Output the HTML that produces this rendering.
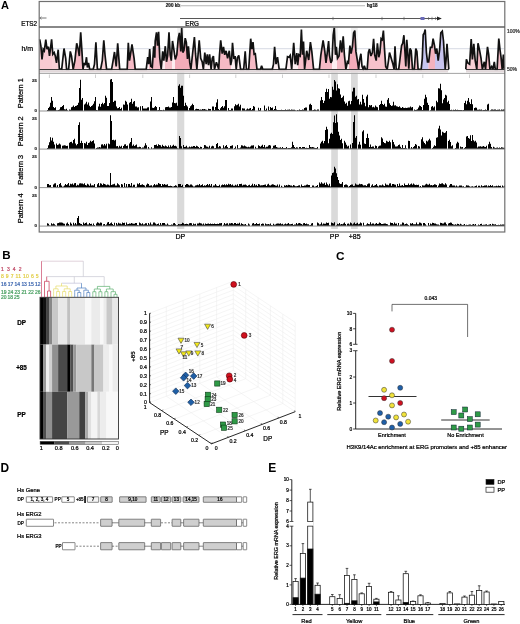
<!DOCTYPE html>
<html><head><meta charset="utf-8"><style>
html,body{margin:0;padding:0;background:#fff;width:520px;height:624px;overflow:hidden}
svg{display:block;filter:blur(0.25px)}
text{font-family:"Liberation Sans",sans-serif}
</style></head><body>
<svg width="520" height="624" viewBox="0 0 520 624">
<rect width="520" height="624" fill="#fff"/>
<text x="0.9" y="9.2" font-size="11" font-weight="bold" font-family="Liberation Sans, sans-serif">A</text>
<rect x="177.2" y="27.5" width="7.0" height="201.5" fill="#f0f0f0"/>
<rect x="177.2" y="74" width="7.0" height="155" fill="#dadada"/>
<rect x="331.3" y="27.5" width="6.5" height="201.5" fill="#f0f0f0"/>
<rect x="331.3" y="74" width="6.5" height="155" fill="#dadada"/>
<rect x="351" y="27.5" width="6.7" height="201.5" fill="#f0f0f0"/>
<rect x="351" y="74" width="6.7" height="155" fill="#dadada"/>
<text x="165.8" y="7.4" font-size="4.6" font-weight="bold" font-family="Liberation Sans, sans-serif" fill="#222" stroke="#222" stroke-width="0.22">200 kb</text>
<line x1="181" y1="5.8" x2="365" y2="5.8" stroke="#b4b4b4" stroke-width="1.1"/>
<line x1="180.2" y1="4.2" x2="180.2" y2="7.4" stroke="#999" stroke-width="0.6"/>
<text x="366.8" y="7.4" font-size="4.6" font-weight="bold" font-family="Liberation Sans, sans-serif" fill="#222" stroke="#222" stroke-width="0.22">hg18</text>
<line x1="39.5" y1="18" x2="46.5" y2="18" stroke="#555" stroke-width="0.8"/>
<path d="M41.5 16.6L39.8 18L41.5 19.4" fill="none" stroke="#555" stroke-width="0.6"/>
<line x1="180" y1="18.5" x2="440" y2="18.5" stroke="#444" stroke-width="0.9"/>
<line x1="333" y1="16.8" x2="333" y2="20.2" stroke="#555" stroke-width="0.6"/>
<line x1="382" y1="16.8" x2="382" y2="20.2" stroke="#555" stroke-width="0.6"/>
<line x1="404" y1="16.8" x2="404" y2="20.2" stroke="#555" stroke-width="0.6"/>
<line x1="432" y1="16.8" x2="432" y2="20.2" stroke="#555" stroke-width="0.6"/>
<rect x="420.5" y="17" width="4" height="3" fill="#6a6ab8"/>
<path d="M437 16.4L441.8 18.5L437 20.6Z" fill="#222"/>
<path d="M428 17.2L429.6 18.5L428 19.8" fill="none" stroke="#444" stroke-width="0.6"/>
<path d="M435 17.2L436.6 18.5L435 19.8" fill="none" stroke="#444" stroke-width="0.6"/>
<text x="21.3" y="25.8" font-size="6.3" font-family="Liberation Sans, sans-serif" stroke="#000" stroke-width="0.22">ETS2</text>
<text x="185.3" y="25.8" font-size="6.3" font-family="Liberation Sans, sans-serif" stroke="#000" stroke-width="0.22">ERG</text>
<text x="21.4" y="50.7" font-size="7" font-family="Liberation Sans, sans-serif" stroke="#000" stroke-width="0.22">h/m</text>
<text x="507" y="33" font-size="5" font-family="Liberation Sans, sans-serif" fill="#333" stroke="#333" stroke-width="0.22">100%</text>
<text x="507" y="70.5" font-size="5" font-family="Liberation Sans, sans-serif" fill="#333" stroke="#333" stroke-width="0.22">50%</text>
<clipPath id="hmclip"><polygon points="39.7,39.3 40.9,46.2 42.0,59.5 43.2,49.1 44.3,50.8 45.8,39.6 47.0,49.1 48.4,46.8 49.5,56.0 50.7,46.8 51.6,39.3 52.8,54.3 54.2,52.5 55.3,56.0 56.5,62.9 58.2,49.7 59.3,68.7 61.7,69.3 64.0,48.5 65.7,58.3 66.6,69.3 68.6,69.3 70.3,51.4 71.5,56.0 73.2,69.3 74.9,60.6 76.7,43.3 78.2,49.1 79.3,56.0 80.7,32.3 81.8,49.1 83.0,69.3 84.2,62.9 85.3,65.2 86.5,57.2 87.4,67.5 88.5,62.9 89.7,69.3 93.2,69.3 94.5,64.1 95.9,42.2 97.4,69.3 100.6,69.3 102.3,60.6 103.8,40.4 105.0,54.8 106.6,69.3 111.6,69.3 113.1,60.6 114.5,52.0 116.2,66.4 117.7,43.3 119.7,69.3 127.2,69.3 128.3,42.7 129.5,60.6 132.0,44.5 134.1,58.3 135.2,69.3 146.2,69.3 147.7,57.2 148.8,64.1 149.7,49.1 150.8,66.4 152.3,67.5 153.7,46.2 154.8,57.7 155.2,41.0 156.5,32.3 157.5,45.6 158.6,31.8 159.8,58.3 161.2,69.3 162.7,51.4 163.8,60.6 165.3,46.2 166.5,61.8 167.6,56.0 169.0,32.3 170.2,54.8 171.3,60.6 172.5,41.0 173.8,49.1 175.3,59.5 176.8,54.8 178.2,38.7 179.4,32.9 180.8,51.4 181.7,27.7 182.8,52.5 184.0,50.2 185.2,38.1 186.3,42.2 187.5,58.9 188.4,46.2 189.8,62.9 190.9,69.3 192.7,52.5 194.4,37.0 195.5,53.7 196.9,69.3 199.2,40.4 200.7,58.3 202.2,61.8 203.4,69.3 204.8,52.5 206.2,64.1 207.3,54.3 208.5,65.2 209.6,54.3 211.1,69.3 212.3,58.3 213.4,56.0 214.5,69.3 216.4,62.3 217.5,65.2 218.7,69.3 219.5,54.8 220.7,40.4 222.2,53.7 223.5,46.8 224.7,54.8 226.1,50.8 227.6,58.3 229.3,50.8 230.7,65.2 231.6,60.6 232.5,42.7 233.9,58.9 235.1,56.0 236.2,69.3 237.4,57.7 238.8,55.4 240.6,69.3 243.7,69.3 245.2,51.4 246.4,69.3 248.7,69.3 250.7,38.7 251.8,49.1 253.0,42.2 254.1,54.3 255.3,53.7 257.0,69.3 260.5,69.3 261.6,65.8 262.8,69.3 272.3,69.3 273.5,64.1 274.6,46.8 276.0,64.1 277.5,57.2 279.2,69.3 285.9,69.3 287.5,56.6 289.0,57.2 290.2,55.4 291.7,69.3 293.7,42.7 295.2,64.1 296.8,53.1 297.7,65.2 298.8,54.8 300.2,56.0 301.4,29.5 302.5,54.8 303.5,41.6 304.6,69.3 306.7,50.8 308.7,60.0 310.4,42.2 311.8,51.4 313.6,69.3 319.4,69.3 320.8,55.4 323.1,40.4 324.8,51.4 326.0,62.9 327.7,49.1 328.6,41.0 329.4,54.8 330.9,62.9 332.0,60.6 333.2,35.2 334.3,27.7 335.5,54.8 336.3,46.8 337.5,58.3 339.0,56.0 340.5,40.4 341.8,52.5 343.2,36.4 344.4,54.8 345.9,69.3 347.4,61.8 348.5,62.9 349.9,45.6 351.1,53.7 352.5,46.2 353.6,32.9 354.8,30.6 355.9,51.4 357.4,60.6 358.6,69.3 359.7,59.5 360.9,53.7 362.0,66.4 363.2,69.3 364.3,65.8 365.5,69.3 367.2,69.3 368.4,52.5 369.5,49.1 370.9,56.0 372.4,52.5 373.6,38.7 374.7,54.8 376.2,60.6 377.4,43.3 378.8,57.2 379.9,52.5 381.1,38.7 382.2,39.8 383.4,30.6 384.5,49.1 385.7,66.4 387.2,69.3 388.5,60.6 389.5,52.5 391.2,58.3 392.9,64.1 394.1,69.3 395.0,46.2 396.2,69.3 398.7,69.3 399.8,60.6 401.6,45.6 402.7,43.3 403.9,35.2 405.0,52.5 405.8,66.4 406.8,39.8 407.9,54.8 408.8,68.7 410.0,48.5 411.2,50.8 412.5,69.3 414.3,69.3 415.8,48.5 416.9,51.4 418.1,69.3 421.2,69.3 422.3,58.3 423.2,34.7 424.3,32.9 425.2,29.5 426.4,52.5 427.5,61.8 428.7,61.8 430.4,47.3 431.9,47.3 433.1,38.7 434.5,45.6 435.6,53.7 436.8,48.5 438.2,60.6 439.7,49.1 440.8,32.9 442.3,31.2 443.5,41.0 444.3,54.8 445.2,69.3 446.1,59.4 447.0,43.9 447.8,54.6 448.8,69.3 448.8,69.3 39.7,69.3"/><polygon points="465.8,69.3 466.4,59.4 467.8,63.0 469.6,64.2 471.2,39.1 472.4,59.4 473.8,43.9 475.2,60.6 476.8,69.3 478.0,43.3 479.5,49.8 481.0,58.2 482.4,69.3 484.3,61.8 485.5,69.3 487.5,46.9 488.7,54.6 489.9,69.3 491.7,66.5 492.9,69.3 494.3,61.8 495.3,69.3 497.1,69.3 498.8,38.5 500.0,49.8 501.0,57.0 502.2,69.3 503.4,54.6 504.2,69.3 504.2,69.3 465.8,69.3"/></clipPath>
<polygon points="39.7,39.3 40.9,46.2 42.0,59.5 43.2,49.1 44.3,50.8 45.8,39.6 47.0,49.1 48.4,46.8 49.5,56.0 50.7,46.8 51.6,39.3 52.8,54.3 54.2,52.5 55.3,56.0 56.5,62.9 58.2,49.7 59.3,68.7 61.7,69.3 64.0,48.5 65.7,58.3 66.6,69.3 68.6,69.3 70.3,51.4 71.5,56.0 73.2,69.3 74.9,60.6 76.7,43.3 78.2,49.1 79.3,56.0 80.7,32.3 81.8,49.1 83.0,69.3 84.2,62.9 85.3,65.2 86.5,57.2 87.4,67.5 88.5,62.9 89.7,69.3 93.2,69.3 94.5,64.1 95.9,42.2 97.4,69.3 100.6,69.3 102.3,60.6 103.8,40.4 105.0,54.8 106.6,69.3 111.6,69.3 113.1,60.6 114.5,52.0 116.2,66.4 117.7,43.3 119.7,69.3 127.2,69.3 128.3,42.7 129.5,60.6 132.0,44.5 134.1,58.3 135.2,69.3 146.2,69.3 147.7,57.2 148.8,64.1 149.7,49.1 150.8,66.4 152.3,67.5 153.7,46.2 154.8,57.7 155.2,41.0 156.5,32.3 157.5,45.6 158.6,31.8 159.8,58.3 161.2,69.3 162.7,51.4 163.8,60.6 165.3,46.2 166.5,61.8 167.6,56.0 169.0,32.3 170.2,54.8 171.3,60.6 172.5,41.0 173.8,49.1 175.3,59.5 176.8,54.8 178.2,38.7 179.4,32.9 180.8,51.4 181.7,27.7 182.8,52.5 184.0,50.2 185.2,38.1 186.3,42.2 187.5,58.9 188.4,46.2 189.8,62.9 190.9,69.3 192.7,52.5 194.4,37.0 195.5,53.7 196.9,69.3 199.2,40.4 200.7,58.3 202.2,61.8 203.4,69.3 204.8,52.5 206.2,64.1 207.3,54.3 208.5,65.2 209.6,54.3 211.1,69.3 212.3,58.3 213.4,56.0 214.5,69.3 216.4,62.3 217.5,65.2 218.7,69.3 219.5,54.8 220.7,40.4 222.2,53.7 223.5,46.8 224.7,54.8 226.1,50.8 227.6,58.3 229.3,50.8 230.7,65.2 231.6,60.6 232.5,42.7 233.9,58.9 235.1,56.0 236.2,69.3 237.4,57.7 238.8,55.4 240.6,69.3 243.7,69.3 245.2,51.4 246.4,69.3 248.7,69.3 250.7,38.7 251.8,49.1 253.0,42.2 254.1,54.3 255.3,53.7 257.0,69.3 260.5,69.3 261.6,65.8 262.8,69.3 272.3,69.3 273.5,64.1 274.6,46.8 276.0,64.1 277.5,57.2 279.2,69.3 285.9,69.3 287.5,56.6 289.0,57.2 290.2,55.4 291.7,69.3 293.7,42.7 295.2,64.1 296.8,53.1 297.7,65.2 298.8,54.8 300.2,56.0 301.4,29.5 302.5,54.8 303.5,41.6 304.6,69.3 306.7,50.8 308.7,60.0 310.4,42.2 311.8,51.4 313.6,69.3 319.4,69.3 320.8,55.4 323.1,40.4 324.8,51.4 326.0,62.9 327.7,49.1 328.6,41.0 329.4,54.8 330.9,62.9 332.0,60.6 333.2,35.2 334.3,27.7 335.5,54.8 336.3,46.8 337.5,58.3 339.0,56.0 340.5,40.4 341.8,52.5 343.2,36.4 344.4,54.8 345.9,69.3 347.4,61.8 348.5,62.9 349.9,45.6 351.1,53.7 352.5,46.2 353.6,32.9 354.8,30.6 355.9,51.4 357.4,60.6 358.6,69.3 359.7,59.5 360.9,53.7 362.0,66.4 363.2,69.3 364.3,65.8 365.5,69.3 367.2,69.3 368.4,52.5 369.5,49.1 370.9,56.0 372.4,52.5 373.6,38.7 374.7,54.8 376.2,60.6 377.4,43.3 378.8,57.2 379.9,52.5 381.1,38.7 382.2,39.8 383.4,30.6 384.5,49.1 385.7,66.4 387.2,69.3 388.5,60.6 389.5,52.5 391.2,58.3 392.9,64.1 394.1,69.3 395.0,46.2 396.2,69.3 398.7,69.3 399.8,60.6 401.6,45.6 402.7,43.3 403.9,35.2 405.0,52.5 405.8,66.4 406.8,39.8 407.9,54.8 408.8,68.7 410.0,48.5 411.2,50.8 412.5,69.3 414.3,69.3 415.8,48.5 416.9,51.4 418.1,69.3 421.2,69.3 422.3,58.3 423.2,34.7 424.3,32.9 425.2,29.5 426.4,52.5 427.5,61.8 428.7,61.8 430.4,47.3 431.9,47.3 433.1,38.7 434.5,45.6 435.6,53.7 436.8,48.5 438.2,60.6 439.7,49.1 440.8,32.9 442.3,31.2 443.5,41.0 444.3,54.8 445.2,69.3 446.1,59.4 447.0,43.9 447.8,54.6 448.8,69.3 448.8,69.3 39.7,69.3" fill="#fdeef1"/>
<polygon points="465.8,69.3 466.4,59.4 467.8,63.0 469.6,64.2 471.2,39.1 472.4,59.4 473.8,43.9 475.2,60.6 476.8,69.3 478.0,43.3 479.5,49.8 481.0,58.2 482.4,69.3 484.3,61.8 485.5,69.3 487.5,46.9 488.7,54.6 489.9,69.3 491.7,66.5 492.9,69.3 494.3,61.8 495.3,69.3 497.1,69.3 498.8,38.5 500.0,49.8 501.0,57.0 502.2,69.3 503.4,54.6 504.2,69.3 504.2,69.3 465.8,69.3" fill="#fdeef1"/>
<g clip-path="url(#hmclip)"><rect x="39" y="27" width="13.0" height="43" fill="#f8cad2"/><rect x="52" y="27" width="6.0" height="43" fill="#f8d0d6"/><rect x="72" y="27" width="10.5" height="43" fill="#f5bac5"/><rect x="100" y="27" width="6.0" height="43" fill="#f8d0d6"/><rect x="113" y="27" width="6.0" height="43" fill="#f8d0d6"/><rect x="128" y="27" width="7.0" height="43" fill="#f5bac5"/><rect x="149" y="27" width="11.0" height="43" fill="#f5bac5"/><rect x="165" y="27" width="7.0" height="43" fill="#f6c0ca"/><rect x="175" y="27" width="15.5" height="43" fill="#f3acb9"/><rect x="192" y="27" width="5.0" height="43" fill="#f8d0d6"/><rect x="218" y="27" width="13.0" height="43" fill="#f5bac5"/><rect x="248" y="27" width="9.0" height="43" fill="#f5bac5"/><rect x="298" y="27" width="6.0" height="43" fill="#f6c0ca"/><rect x="306" y="27" width="7.5" height="43" fill="#f5bac5"/><rect x="320" y="27" width="12.0" height="43" fill="#f5bac5"/><rect x="337" y="27" width="8.5" height="43" fill="#f5bac5"/><rect x="349" y="27" width="9.5" height="43" fill="#f3acb9"/><rect x="368" y="27" width="18.5" height="43" fill="#f6c2cb"/><rect x="399" y="27" width="19.0" height="43" fill="#f6c0ca"/><rect x="421" y="27" width="7.5" height="43" fill="#c6c6f0"/><rect x="428.5" y="27" width="6.5" height="43" fill="#f3b2bd"/><rect x="435" y="27" width="10.5" height="43" fill="#c8c4ee"/><rect x="466" y="27" width="10.0" height="43" fill="#f8d0d6"/><rect x="476" y="27" width="6.5" height="43" fill="#f5bac5"/><rect x="486" y="27" width="4.0" height="43" fill="#f6c0ca"/><rect x="497" y="27" width="6.0" height="43" fill="#f6c0ca"/></g>
<line x1="40" y1="48.7" x2="504" y2="48.7" stroke="#c4cad8" stroke-width="0.7"/>
<polyline points="39.7,39.3 40.9,46.2 42.0,59.5 43.2,49.1 44.3,50.8 45.8,39.6 47.0,49.1 48.4,46.8 49.5,56.0 50.7,46.8 51.6,39.3 52.8,54.3 54.2,52.5 55.3,56.0 56.5,62.9 58.2,49.7 59.3,68.7 61.7,69.3 64.0,48.5 65.7,58.3 66.6,69.3 68.6,69.3 70.3,51.4 71.5,56.0 73.2,69.3 74.9,60.6 76.7,43.3 78.2,49.1 79.3,56.0 80.7,32.3 81.8,49.1 83.0,69.3 84.2,62.9 85.3,65.2 86.5,57.2 87.4,67.5 88.5,62.9 89.7,69.3 93.2,69.3 94.5,64.1 95.9,42.2 97.4,69.3 100.6,69.3 102.3,60.6 103.8,40.4 105.0,54.8 106.6,69.3 111.6,69.3 113.1,60.6 114.5,52.0 116.2,66.4 117.7,43.3 119.7,69.3 127.2,69.3 128.3,42.7 129.5,60.6 132.0,44.5 134.1,58.3 135.2,69.3 146.2,69.3 147.7,57.2 148.8,64.1 149.7,49.1 150.8,66.4 152.3,67.5 153.7,46.2 154.8,57.7 155.2,41.0 156.5,32.3 157.5,45.6 158.6,31.8 159.8,58.3 161.2,69.3 162.7,51.4 163.8,60.6 165.3,46.2 166.5,61.8 167.6,56.0 169.0,32.3 170.2,54.8 171.3,60.6 172.5,41.0 173.8,49.1 175.3,59.5 176.8,54.8 178.2,38.7 179.4,32.9 180.8,51.4 181.7,27.7 182.8,52.5 184.0,50.2 185.2,38.1 186.3,42.2 187.5,58.9 188.4,46.2 189.8,62.9 190.9,69.3 192.7,52.5 194.4,37.0 195.5,53.7 196.9,69.3 199.2,40.4 200.7,58.3 202.2,61.8 203.4,69.3 204.8,52.5 206.2,64.1 207.3,54.3 208.5,65.2 209.6,54.3 211.1,69.3 212.3,58.3 213.4,56.0 214.5,69.3 216.4,62.3 217.5,65.2 218.7,69.3 219.5,54.8 220.7,40.4 222.2,53.7 223.5,46.8 224.7,54.8 226.1,50.8 227.6,58.3 229.3,50.8 230.7,65.2 231.6,60.6 232.5,42.7 233.9,58.9 235.1,56.0 236.2,69.3 237.4,57.7 238.8,55.4 240.6,69.3 243.7,69.3 245.2,51.4 246.4,69.3 248.7,69.3 250.7,38.7 251.8,49.1 253.0,42.2 254.1,54.3 255.3,53.7 257.0,69.3 260.5,69.3 261.6,65.8 262.8,69.3 272.3,69.3 273.5,64.1 274.6,46.8 276.0,64.1 277.5,57.2 279.2,69.3 285.9,69.3 287.5,56.6 289.0,57.2 290.2,55.4 291.7,69.3 293.7,42.7 295.2,64.1 296.8,53.1 297.7,65.2 298.8,54.8 300.2,56.0 301.4,29.5 302.5,54.8 303.5,41.6 304.6,69.3 306.7,50.8 308.7,60.0 310.4,42.2 311.8,51.4 313.6,69.3 319.4,69.3 320.8,55.4 323.1,40.4 324.8,51.4 326.0,62.9 327.7,49.1 328.6,41.0 329.4,54.8 330.9,62.9 332.0,60.6 333.2,35.2 334.3,27.7 335.5,54.8 336.3,46.8 337.5,58.3 339.0,56.0 340.5,40.4 341.8,52.5 343.2,36.4 344.4,54.8 345.9,69.3 347.4,61.8 348.5,62.9 349.9,45.6 351.1,53.7 352.5,46.2 353.6,32.9 354.8,30.6 355.9,51.4 357.4,60.6 358.6,69.3 359.7,59.5 360.9,53.7 362.0,66.4 363.2,69.3 364.3,65.8 365.5,69.3 367.2,69.3 368.4,52.5 369.5,49.1 370.9,56.0 372.4,52.5 373.6,38.7 374.7,54.8 376.2,60.6 377.4,43.3 378.8,57.2 379.9,52.5 381.1,38.7 382.2,39.8 383.4,30.6 384.5,49.1 385.7,66.4 387.2,69.3 388.5,60.6 389.5,52.5 391.2,58.3 392.9,64.1 394.1,69.3 395.0,46.2 396.2,69.3 398.7,69.3 399.8,60.6 401.6,45.6 402.7,43.3 403.9,35.2 405.0,52.5 405.8,66.4 406.8,39.8 407.9,54.8 408.8,68.7 410.0,48.5 411.2,50.8 412.5,69.3 414.3,69.3 415.8,48.5 416.9,51.4 418.1,69.3 421.2,69.3 422.3,58.3 423.2,34.7 424.3,32.9 425.2,29.5 426.4,52.5 427.5,61.8 428.7,61.8 430.4,47.3 431.9,47.3 433.1,38.7 434.5,45.6 435.6,53.7 436.8,48.5 438.2,60.6 439.7,49.1 440.8,32.9 442.3,31.2 443.5,41.0 444.3,54.8 445.2,69.3 446.1,59.4 447.0,43.9 447.8,54.6 448.8,69.3" fill="none" stroke="#111" stroke-width="1.7" stroke-linejoin="miter" stroke-miterlimit="3"/>
<polyline points="465.8,69.3 466.4,59.4 467.8,63.0 469.6,64.2 471.2,39.1 472.4,59.4 473.8,43.9 475.2,60.6 476.8,69.3 478.0,43.3 479.5,49.8 481.0,58.2 482.4,69.3 484.3,61.8 485.5,69.3 487.5,46.9 488.7,54.6 489.9,69.3 491.7,66.5 492.9,69.3 494.3,61.8 495.3,69.3 497.1,69.3 498.8,38.5 500.0,49.8 501.0,57.0 502.2,69.3 503.4,54.6 504.2,69.3" fill="none" stroke="#111" stroke-width="1.7" stroke-linejoin="miter" stroke-miterlimit="3"/>
<line x1="39" y1="69.6" x2="449" y2="69.6" stroke="#222" stroke-width="1"/>
<line x1="466" y1="69.6" x2="505" y2="69.6" stroke="#222" stroke-width="1"/>
<rect x="39" y="70.2" width="409" height="2.2" fill="#e2d8da"/>
<rect x="466" y="70.2" width="39" height="2.2" fill="#e2d8da"/>
<line x1="39" y1="73.4" x2="505" y2="73.4" stroke="#999" stroke-width="0.9"/>
<line x1="49.4" y1="74.5" x2="49.4" y2="78" stroke="#bbb" stroke-width="0.7"/>
<line x1="95.5" y1="74.5" x2="95.5" y2="78" stroke="#bbb" stroke-width="0.7"/>
<line x1="142.8" y1="74.5" x2="142.8" y2="78" stroke="#bbb" stroke-width="0.7"/>
<line x1="189.6" y1="74.5" x2="189.6" y2="78" stroke="#bbb" stroke-width="0.7"/>
<line x1="235.8" y1="74.5" x2="235.8" y2="78" stroke="#bbb" stroke-width="0.7"/>
<line x1="282.5" y1="74.5" x2="282.5" y2="78" stroke="#bbb" stroke-width="0.7"/>
<line x1="329" y1="74.5" x2="329" y2="78" stroke="#bbb" stroke-width="0.7"/>
<line x1="376" y1="74.5" x2="376" y2="78" stroke="#bbb" stroke-width="0.7"/>
<line x1="422.8" y1="74.5" x2="422.8" y2="78" stroke="#bbb" stroke-width="0.7"/>
<line x1="469.5" y1="74.5" x2="469.5" y2="78" stroke="#bbb" stroke-width="0.7"/>
<path d="M47 110.7h1v-0.6h-1zM48 110.7h1v-2.8h-1zM49 110.7h1v-3.9h-1zM50 110.7h1v-8.0h-1zM51 110.7h1v-13.8h-1zM52 110.7h1v-9.9h-1zM53 110.7h1v-3.6h-1zM54 110.7h1v-2.6h-1zM55 110.7h1v-3.4h-1zM56 110.7h1v-0.5h-1zM57 110.7h1v-0.5h-1zM58 110.7h1v-0.7h-1zM59 110.7h1v-1.2h-1zM60 110.7h1v-3.5h-1zM61 110.7h1v-3.8h-1zM62 110.7h1v-4.8h-1zM63 110.7h1v-5.7h-1zM64 110.7h1v-1.5h-1zM65 110.7h1v-1.2h-1zM66 110.7h1v-2.0h-1zM67 110.7h1v-0.4h-1zM69 110.7h1v-1.1h-1zM70 110.7h1v-0.9h-1zM71 110.7h1v-3.5h-1zM72 110.7h1v-4.0h-1zM73 110.7h1v-5.3h-1zM74 110.7h1v-3.7h-1zM75 110.7h1v-4.7h-1zM76 110.7h1v-4.9h-1zM77 110.7h1v-5.7h-1zM78 110.7h1v-8.0h-1zM79 110.7h1v-22.8h-1zM80 110.7h1v-31.0h-1zM81 110.7h1v-10.9h-1zM82 110.7h1v-12.7h-1zM84 110.7h1v-6.2h-1zM85 110.7h1v-7.3h-1zM86 110.7h1v-9.0h-1zM87 110.7h1v-6.2h-1zM88 110.7h1v-8.2h-1zM89 110.7h1v-5.0h-1zM90 110.7h1v-3.8h-1zM91 110.7h1v-4.7h-1zM92 110.7h1v-5.5h-1zM93 110.7h1v-7.0h-1zM94 110.7h1v-9.4h-1zM95 110.7h1v-13.8h-1zM96 110.7h1v-0.8h-1zM97 110.7h1v-0.5h-1zM98 110.7h1v-4.3h-1zM99 110.7h1v-7.0h-1zM100 110.7h1v-4.0h-1zM101 110.7h1v-6.8h-1zM102 110.7h1v-8.0h-1zM103 110.7h1v-6.5h-1zM104 110.7h1v-7.6h-1zM105 110.7h1v-15.0h-1zM106 110.7h1v-12.9h-1zM107 110.7h1v-4.7h-1zM108 110.7h1v-4.7h-1zM109 110.7h1v-7.6h-1zM110 110.7h1v-31.1h-1zM111 110.7h1v-31.6h-1zM112 110.7h1v-28.6h-1zM113 110.7h1v-8.7h-1zM114 110.7h1v-10.0h-1zM115 110.7h1v-10.0h-1zM116 110.7h1v-4.2h-1zM117 110.7h1v-2.5h-1zM118 110.7h1v-2.8h-1zM119 110.7h1v-3.7h-1zM120 110.7h1v-1.6h-1zM121 110.7h1v-3.0h-1zM123 110.7h1v-6.3h-1zM124 110.7h1v-6.0h-1zM125 110.7h1v-10.0h-1zM126 110.7h1v-9.0h-1zM127 110.7h1v-6.1h-1zM129 110.7h1v-7.9h-1zM130 110.7h1v-8.7h-1zM131 110.7h1v-12.0h-1zM132 110.7h1v-7.0h-1zM133 110.7h1v-9.0h-1zM134 110.7h1v-9.6h-1zM135 110.7h1v-4.2h-1zM136 110.7h1v-4.3h-1zM137 110.7h1v-3.1h-1zM138 110.7h1v-3.4h-1zM140 110.7h1v-4.4h-1zM142 110.7h1v-4.6h-1zM143 110.7h1v-2.1h-1zM144 110.7h1v-2.1h-1zM145 110.7h1v-2.3h-1zM146 110.7h1v-2.3h-1zM147 110.7h1v-3.1h-1zM148 110.7h1v-3.4h-1zM150 110.7h1v-9.2h-1zM151 110.7h1v-13.8h-1zM152 110.7h1v-2.9h-1zM153 110.7h1v-2.7h-1zM154 110.7h1v-3.4h-1zM155 110.7h1v-4.6h-1zM156 110.7h1v-3.8h-1zM157 110.7h1v-0.4h-1zM158 110.7h1v-0.6h-1zM159 110.7h1v-3.7h-1zM160 110.7h1v-0.8h-1zM161 110.7h1v-0.8h-1zM162 110.7h1v-0.5h-1zM163 110.7h1v-1.0h-1zM164 110.7h1v-0.5h-1zM165 110.7h1v-3.4h-1zM166 110.7h1v-3.7h-1zM167 110.7h1v-3.6h-1zM168 110.7h1v-4.1h-1zM169 110.7h1v-3.3h-1zM170 110.7h1v-3.2h-1zM171 110.7h1v-3.6h-1zM172 110.7h1v-8.2h-1zM173 110.7h1v-13.8h-1zM174 110.7h1v-7.7h-1zM175 110.7h1v-7.5h-1zM176 110.7h1v-8.0h-1zM177 110.7h1v-4.9h-1zM178 110.7h1v-25.0h-1zM179 110.7h1v-26.5h-1zM180 110.7h1v-23.0h-1zM181 110.7h1v-25.0h-1zM182 110.7h1v-25.0h-1zM183 110.7h1v-15.0h-1zM184 110.7h1v-4.8h-1zM185 110.7h1v-8.0h-1zM186 110.7h1v-5.4h-1zM187 110.7h1v-4.2h-1zM188 110.7h1v-0.5h-1zM189 110.7h1v-2.6h-1zM190 110.7h1v-4.5h-1zM191 110.7h1v-5.5h-1zM192 110.7h1v-7.0h-1zM193 110.7h1v-5.6h-1zM194 110.7h1v-0.4h-1zM195 110.7h1v-1.4h-1zM196 110.7h1v-2.0h-1zM197 110.7h1v-1.8h-1zM198 110.7h1v-1.6h-1zM199 110.7h1v-1.0h-1zM200 110.7h1v-1.2h-1zM201 110.7h1v-0.9h-1zM202 110.7h1v-1.7h-1zM203 110.7h1v-1.4h-1zM204 110.7h1v-1.7h-1zM205 110.7h1v-1.1h-1zM206 110.7h1v-1.0h-1zM207 110.7h1v-0.4h-1zM208 110.7h1v-2.0h-1zM209 110.7h1v-1.8h-1zM210 110.7h1v-1.8h-1zM212 110.7h1v-4.2h-1zM213 110.7h1v-4.1h-1zM214 110.7h1v-0.6h-1zM215 110.7h1v-3.6h-1zM216 110.7h1v-8.2h-1zM217 110.7h1v-11.5h-1zM218 110.7h1v-1.7h-1zM219 110.7h1v-0.8h-1zM220 110.7h1v-2.4h-1zM221 110.7h1v-3.8h-1zM222 110.7h1v-4.6h-1zM223 110.7h1v-3.0h-1zM224 110.7h1v-4.5h-1zM225 110.7h1v-10.7h-1zM226 110.7h1v-10.8h-1zM228 110.7h1v-2.7h-1zM229 110.7h1v-0.6h-1zM230 110.7h1v-0.7h-1zM231 110.7h1v-2.2h-1zM232 110.7h1v-2.2h-1zM234 110.7h1v-4.4h-1zM235 110.7h1v-6.5h-1zM236 110.7h1v-5.4h-1zM237 110.7h1v-5.9h-1zM238 110.7h1v-7.0h-1zM239 110.7h1v-4.1h-1zM240 110.7h1v-5.9h-1zM242 110.7h1v-2.5h-1zM243 110.7h1v-2.3h-1zM244 110.7h1v-2.3h-1zM245 110.7h1v-0.5h-1zM246 110.7h1v-1.2h-1zM247 110.7h1v-2.3h-1zM248 110.7h1v-1.5h-1zM249 110.7h1v-2.3h-1zM250 110.7h1v-2.6h-1zM251 110.7h1v-0.8h-1zM252 110.7h1v-1.6h-1zM253 110.7h1v-4.6h-1zM254 110.7h1v-3.9h-1zM258 110.7h1v-2.9h-1zM259 110.7h1v-0.6h-1zM260 110.7h1v-2.8h-1zM264 110.7h1v-5.1h-1zM265 110.7h1v-0.6h-1zM266 110.7h1v-2.3h-1zM268 110.7h1v-4.2h-1zM269 110.7h1v-0.6h-1zM270 110.7h1v-3.6h-1zM271 110.7h1v-2.7h-1zM272 110.7h1v-3.3h-1zM273 110.7h1v-0.6h-1zM274 110.7h1v-1.6h-1zM275 110.7h1v-4.6h-1zM276 110.7h1v-1.2h-1zM277 110.7h1v-0.6h-1zM278 110.7h1v-0.7h-1zM279 110.7h1v-0.7h-1zM280 110.7h1v-0.7h-1zM281 110.7h1v-1.0h-1zM282 110.7h1v-0.7h-1zM283 110.7h1v-0.8h-1zM284 110.7h1v-0.6h-1zM285 110.7h1v-1.3h-1zM286 110.7h1v-0.8h-1zM287 110.7h1v-0.9h-1zM288 110.7h1v-1.0h-1zM289 110.7h1v-1.3h-1zM290 110.7h1v-0.8h-1zM291 110.7h1v-1.3h-1zM292 110.7h1v-0.9h-1zM293 110.7h1v-0.9h-1zM294 110.7h1v-0.9h-1zM295 110.7h1v-0.5h-1zM296 110.7h1v-0.3h-1zM297 110.7h1v-0.6h-1zM298 110.7h1v-0.5h-1zM299 110.7h1v-1.2h-1zM300 110.7h1v-0.6h-1zM301 110.7h1v-0.8h-1zM302 110.7h1v-1.1h-1zM303 110.7h1v-1.0h-1zM304 110.7h1v-2.6h-1zM305 110.7h1v-3.2h-1zM306 110.7h1v-3.3h-1zM309 110.7h1v-6.3h-1zM310 110.7h1v-7.0h-1zM311 110.7h1v-5.6h-1zM312 110.7h1v-0.4h-1zM313 110.7h1v-0.7h-1zM314 110.7h1v-1.1h-1zM315 110.7h1v-0.9h-1zM316 110.7h1v-0.4h-1zM317 110.7h1v-1.1h-1zM318 110.7h1v-1.3h-1zM320 110.7h1v-10.3h-1zM321 110.7h1v-13.8h-1zM322 110.7h1v-10.7h-1zM323 110.7h1v-7.8h-1zM324 110.7h1v-10.0h-1zM325 110.7h1v-18.6h-1zM326 110.7h1v-22.0h-1zM327 110.7h1v-18.8h-1zM328 110.7h1v-21.6h-1zM329 110.7h1v-11.9h-1zM330 110.7h1v-13.8h-1zM331 110.7h1v-13.4h-1zM332 110.7h1v-24.0h-1zM333 110.7h1v-21.0h-1zM334 110.7h1v-30.7h-1zM335 110.7h1v-29.3h-1zM336 110.7h1v-20.1h-1zM337 110.7h1v-26.5h-1zM338 110.7h1v-22.4h-1zM339 110.7h1v-22.0h-1zM340 110.7h1v-16.3h-1zM341 110.7h1v-12.8h-1zM342 110.7h1v-13.5h-1zM343 110.7h1v-15.0h-1zM344 110.7h1v-9.3h-1zM345 110.7h1v-7.0h-1zM346 110.7h1v-8.0h-1zM347 110.7h1v-4.9h-1zM348 110.7h1v-9.5h-1zM349 110.7h1v-10.0h-1zM350 110.7h1v-6.5h-1zM351 110.7h1v-9.8h-1zM352 110.7h1v-19.1h-1zM353 110.7h1v-23.0h-1zM354 110.7h1v-22.9h-1zM355 110.7h1v-13.9h-1zM356 110.7h1v-15.0h-1zM357 110.7h1v-11.2h-1zM358 110.7h1v-11.7h-1zM359 110.7h1v-6.3h-1zM360 110.7h1v-9.0h-1zM361 110.7h1v-6.2h-1zM362 110.7h1v-16.0h-1zM363 110.7h1v-11.6h-1zM364 110.7h1v-8.0h-1zM365 110.7h1v-4.5h-1zM366 110.7h1v-14.3h-1zM367 110.7h1v-16.0h-1zM368 110.7h1v-3.4h-1zM369 110.7h1v-5.8h-1zM370 110.7h1v-5.2h-1zM371 110.7h1v-5.7h-1zM372 110.7h1v-3.5h-1zM373 110.7h1v-3.9h-1zM374 110.7h1v-3.3h-1zM375 110.7h1v-5.2h-1zM376 110.7h1v-3.9h-1zM377 110.7h1v-3.5h-1zM378 110.7h1v-0.4h-1zM379 110.7h1v-5.6h-1zM380 110.7h1v-6.7h-1zM381 110.7h1v-10.0h-1zM382 110.7h1v-6.7h-1zM383 110.7h1v-5.6h-1zM384 110.7h1v-7.0h-1zM385 110.7h1v-4.1h-1zM386 110.7h1v-4.0h-1zM387 110.7h1v-10.9h-1zM388 110.7h1v-12.7h-1zM389 110.7h1v-7.4h-1zM390 110.7h1v-5.6h-1zM391 110.7h1v-4.8h-1zM392 110.7h1v-5.3h-1zM393 110.7h1v-9.0h-1zM394 110.7h1v-5.2h-1zM395 110.7h1v-5.4h-1zM396 110.7h1v-4.4h-1zM397 110.7h1v-4.1h-1zM398 110.7h1v-3.7h-1zM399 110.7h1v-4.4h-1zM400 110.7h1v-3.1h-1zM401 110.7h1v-2.8h-1zM402 110.7h1v-3.6h-1zM403 110.7h1v-3.0h-1zM404 110.7h1v-2.8h-1zM405 110.7h1v-2.9h-1zM406 110.7h1v-2.6h-1zM407 110.7h1v-2.9h-1zM408 110.7h1v-3.2h-1zM409 110.7h1v-3.2h-1zM410 110.7h1v-4.1h-1zM411 110.7h1v-3.1h-1zM412 110.7h1v-3.6h-1zM414 110.7h1v-1.2h-1zM415 110.7h1v-0.8h-1zM416 110.7h1v-0.9h-1zM417 110.7h1v-1.4h-1zM418 110.7h1v-3.2h-1zM419 110.7h1v-5.1h-1zM420 110.7h1v-4.6h-1zM421 110.7h1v-3.7h-1zM422 110.7h1v-0.7h-1zM423 110.7h1v-5.6h-1zM424 110.7h1v-12.0h-1zM425 110.7h1v-16.0h-1zM426 110.7h1v-13.5h-1zM427 110.7h1v-8.0h-1zM428 110.7h1v-5.8h-1zM430 110.7h1v-0.5h-1zM431 110.7h1v-4.0h-1zM432 110.7h1v-4.6h-1zM433 110.7h1v-3.2h-1zM434 110.7h1v-4.3h-1zM436 110.7h1v-10.0h-1zM437 110.7h1v-8.4h-1zM438 110.7h1v-22.5h-1zM439 110.7h1v-22.1h-1zM440 110.7h1v-27.0h-1zM441 110.7h1v-20.4h-1zM442 110.7h1v-7.4h-1zM443 110.7h1v-11.2h-1zM444 110.7h1v-12.7h-1zM445 110.7h1v-16.0h-1zM446 110.7h1v-15.3h-1zM447 110.7h1v-8.5h-1zM448 110.7h1v-10.0h-1zM449 110.7h1v-6.6h-1zM450 110.7h1v-0.7h-1zM451 110.7h1v-0.9h-1zM452 110.7h1v-0.4h-1zM453 110.7h1v-0.9h-1zM454 110.7h1v-0.7h-1zM455 110.7h1v-1.3h-1zM456 110.7h1v-0.7h-1zM457 110.7h1v-0.9h-1zM458 110.7h1v-0.7h-1zM459 110.7h1v-0.7h-1zM460 110.7h1v-0.7h-1zM461 110.7h1v-0.8h-1zM462 110.7h1v-0.5h-1zM463 110.7h1v-0.8h-1zM464 110.7h1v-7.6h-1zM465 110.7h1v-10.0h-1zM466 110.7h1v-6.4h-1zM467 110.7h1v-9.9h-1zM468 110.7h1v-12.7h-1zM469 110.7h1v-8.5h-1zM470 110.7h1v-6.8h-1zM471 110.7h1v-11.5h-1zM472 110.7h1v-6.5h-1zM474 110.7h1v-2.6h-1zM475 110.7h1v-3.2h-1zM476 110.7h1v-3.0h-1zM477 110.7h1v-1.0h-1zM478 110.7h1v-0.9h-1zM479 110.7h1v-1.1h-1zM480 110.7h1v-1.0h-1zM481 110.7h1v-1.1h-1zM482 110.7h1v-0.5h-1zM483 110.7h1v-0.8h-1zM484 110.7h1v-0.7h-1zM485 110.7h1v-1.3h-1zM486 110.7h1v-0.6h-1zM487 110.7h1v-6.1h-1zM488 110.7h1v-7.0h-1zM490 110.7h1v-0.5h-1zM491 110.7h1v-1.2h-1zM492 110.7h1v-1.3h-1zM493 110.7h1v-1.0h-1zM494 110.7h1v-1.1h-1zM495 110.7h1v-1.2h-1zM496 110.7h1v-0.6h-1zM497 110.7h1v-0.9h-1zM498 110.7h1v-0.9h-1zM499 110.7h1v-1.2h-1zM500 110.7h1v-0.5h-1zM501 110.7h1v-1.2h-1zM502 110.7h1v-1.0h-1zM503 110.7h1v-1.3h-1zM504 110.7h1v-1.1h-1z" fill="#000"/>
<line x1="39" y1="111.0" x2="505" y2="111.0" stroke="#666" stroke-width="0.7"/>
<text x="36.8" y="81.7" font-size="4.3" font-weight="bold" text-anchor="end" font-family="Liberation Sans, sans-serif" fill="#333" stroke="#333" stroke-width="0.22">25</text>
<text x="36.8" y="112.1" font-size="4.3" font-weight="bold" text-anchor="end" font-family="Liberation Sans, sans-serif" fill="#333" stroke="#333" stroke-width="0.22">0</text>
<text x="0" y="0" font-size="7.4" font-family="Liberation Sans, sans-serif" text-anchor="middle" transform="translate(23.2 93.2) rotate(-90)" stroke="#000" stroke-width="0.22">Pattern 1</text>
<path d="M47 148.8h1v-0.7h-1zM48 148.8h1v-3.5h-1zM49 148.8h1v-6.6h-1zM50 148.8h1v-11.5h-1zM51 148.8h1v-8.3h-1zM52 148.8h1v-11.0h-1zM53 148.8h1v-7.0h-1zM54 148.8h1v-4.4h-1zM56 148.8h1v-5.2h-1zM57 148.8h1v-3.8h-1zM58 148.8h1v-4.2h-1zM59 148.8h1v-5.4h-1zM60 148.8h1v-4.2h-1zM61 148.8h1v-0.4h-1zM62 148.8h1v-3.0h-1zM63 148.8h1v-3.4h-1zM64 148.8h1v-3.6h-1zM65 148.8h1v-3.3h-1zM66 148.8h1v-2.8h-1zM67 148.8h1v-3.0h-1zM69 148.8h1v-6.1h-1zM70 148.8h1v-6.7h-1zM71 148.8h1v-7.0h-1zM72 148.8h1v-5.6h-1zM73 148.8h1v-8.9h-1zM74 148.8h1v-10.0h-1zM75 148.8h1v-5.4h-1zM76 148.8h1v-3.5h-1zM77 148.8h1v-4.8h-1zM78 148.8h1v-23.7h-1zM79 148.8h1v-26.5h-1zM80 148.8h1v-5.9h-1zM81 148.8h1v-8.0h-1zM82 148.8h1v-5.9h-1zM84 148.8h1v-5.9h-1zM85 148.8h1v-5.3h-1zM86 148.8h1v-7.0h-1zM87 148.8h1v-3.9h-1zM88 148.8h1v-5.8h-1zM89 148.8h1v-6.2h-1zM90 148.8h1v-8.0h-1zM91 148.8h1v-7.1h-1zM92 148.8h1v-7.7h-1zM93 148.8h1v-8.5h-1zM94 148.8h1v-5.4h-1zM96 148.8h1v-0.7h-1zM97 148.8h1v-1.3h-1zM98 148.8h1v-1.3h-1zM99 148.8h1v-1.9h-1zM100 148.8h1v-1.2h-1zM101 148.8h1v-4.3h-1zM102 148.8h1v-4.5h-1zM103 148.8h1v-3.3h-1zM104 148.8h1v-4.9h-1zM105 148.8h1v-3.4h-1zM106 148.8h1v-5.1h-1zM108 148.8h1v-5.2h-1zM109 148.8h1v-4.5h-1zM110 148.8h1v-33.5h-1zM111 148.8h1v-27.7h-1zM112 148.8h1v-8.8h-1zM113 148.8h1v-9.0h-1zM114 148.8h1v-8.4h-1zM115 148.8h1v-9.0h-1zM116 148.8h1v-2.6h-1zM117 148.8h1v-2.7h-1zM118 148.8h1v-1.4h-1zM119 148.8h1v-3.1h-1zM120 148.8h1v-2.1h-1zM121 148.8h1v-3.0h-1zM122 148.8h1v-0.7h-1zM123 148.8h1v-2.9h-1zM124 148.8h1v-4.2h-1zM125 148.8h1v-4.5h-1zM126 148.8h1v-2.7h-1zM127 148.8h1v-3.3h-1zM129 148.8h1v-5.2h-1zM130 148.8h1v-6.7h-1zM131 148.8h1v-10.8h-1zM132 148.8h1v-3.1h-1zM133 148.8h1v-4.2h-1zM134 148.8h1v-2.8h-1zM135 148.8h1v-3.6h-1zM136 148.8h1v-4.4h-1zM137 148.8h1v-1.5h-1zM138 148.8h1v-1.6h-1zM139 148.8h1v-2.1h-1zM140 148.8h1v-1.7h-1zM141 148.8h1v-0.6h-1zM142 148.8h1v-1.4h-1zM143 148.8h1v-1.4h-1zM144 148.8h1v-3.0h-1zM145 148.8h1v-5.5h-1zM146 148.8h1v-3.6h-1zM148 148.8h1v-1.7h-1zM149 148.8h1v-0.4h-1zM151 148.8h1v-1.5h-1zM152 148.8h1v-0.4h-1zM153 148.8h1v-0.5h-1zM154 148.8h1v-3.7h-1zM155 148.8h1v-3.7h-1zM156 148.8h1v-4.4h-1zM157 148.8h1v-2.7h-1zM158 148.8h1v-4.6h-1zM159 148.8h1v-3.8h-1zM160 148.8h1v-3.5h-1zM161 148.8h1v-2.1h-1zM162 148.8h1v-4.0h-1zM163 148.8h1v-2.9h-1zM164 148.8h1v-2.3h-1zM165 148.8h1v-3.4h-1zM166 148.8h1v-2.5h-1zM167 148.8h1v-1.8h-1zM168 148.8h1v-3.4h-1zM169 148.8h1v-1.5h-1zM170 148.8h1v-3.6h-1zM171 148.8h1v-2.0h-1zM172 148.8h1v-3.1h-1zM173 148.8h1v-4.0h-1zM174 148.8h1v-2.9h-1zM175 148.8h1v-3.1h-1zM176 148.8h1v-2.2h-1zM177 148.8h1v-0.5h-1zM178 148.8h1v-0.4h-1zM179 148.8h1v-12.7h-1zM180 148.8h1v-10.9h-1zM181 148.8h1v-2.5h-1zM182 148.8h1v-0.3h-1zM183 148.8h1v-3.8h-1zM184 148.8h1v-1.7h-1zM185 148.8h1v-2.0h-1zM186 148.8h1v-3.1h-1zM187 148.8h1v-1.4h-1zM188 148.8h1v-1.4h-1zM189 148.8h1v-2.3h-1zM190 148.8h1v-1.6h-1zM191 148.8h1v-2.3h-1zM192 148.8h1v-2.0h-1zM193 148.8h1v-2.9h-1zM194 148.8h1v-2.9h-1zM195 148.8h1v-1.9h-1zM196 148.8h1v-3.0h-1zM197 148.8h1v-2.6h-1zM198 148.8h1v-1.7h-1zM199 148.8h1v-0.7h-1zM200 148.8h1v-2.0h-1zM201 148.8h1v-1.8h-1zM203 148.8h1v-0.7h-1zM204 148.8h1v-3.7h-1zM205 148.8h1v-3.5h-1zM206 148.8h1v-2.4h-1zM207 148.8h1v-2.1h-1zM208 148.8h1v-1.4h-1zM209 148.8h1v-3.1h-1zM210 148.8h1v-0.5h-1zM211 148.8h1v-2.3h-1zM212 148.8h1v-3.1h-1zM213 148.8h1v-2.5h-1zM214 148.8h1v-0.5h-1zM215 148.8h1v-0.7h-1zM216 148.8h1v-4.9h-1zM217 148.8h1v-5.7h-1zM218 148.8h1v-1.5h-1zM219 148.8h1v-2.8h-1zM220 148.8h1v-2.4h-1zM221 148.8h1v-0.4h-1zM222 148.8h1v-0.6h-1zM223 148.8h1v-3.5h-1zM224 148.8h1v-1.4h-1zM225 148.8h1v-2.8h-1zM226 148.8h1v-3.9h-1zM227 148.8h1v-1.7h-1zM228 148.8h1v-0.5h-1zM229 148.8h1v-0.7h-1zM230 148.8h1v-2.7h-1zM231 148.8h1v-3.1h-1zM232 148.8h1v-3.5h-1zM234 148.8h1v-0.8h-1zM235 148.8h1v-2.2h-1zM237 148.8h1v-3.8h-1zM238 148.8h1v-0.5h-1zM239 148.8h1v-0.5h-1zM240 148.8h1v-1.4h-1zM241 148.8h1v-3.6h-1zM242 148.8h1v-3.4h-1zM243 148.8h1v-2.6h-1zM244 148.8h1v-3.4h-1zM245 148.8h1v-2.6h-1zM246 148.8h1v-2.0h-1zM247 148.8h1v-1.6h-1zM248 148.8h1v-2.0h-1zM249 148.8h1v-1.5h-1zM250 148.8h1v-2.3h-1zM251 148.8h1v-3.4h-1zM252 148.8h1v-3.2h-1zM253 148.8h1v-3.6h-1zM255 148.8h1v-2.1h-1zM256 148.8h1v-0.6h-1zM257 148.8h1v-0.6h-1zM258 148.8h1v-3.5h-1zM259 148.8h1v-2.8h-1zM260 148.8h1v-2.1h-1zM261 148.8h1v-3.1h-1zM262 148.8h1v-4.0h-1zM263 148.8h1v-1.9h-1zM264 148.8h1v-3.7h-1zM265 148.8h1v-1.4h-1zM266 148.8h1v-2.1h-1zM267 148.8h1v-2.0h-1zM268 148.8h1v-3.4h-1zM269 148.8h1v-3.9h-1zM270 148.8h1v-3.4h-1zM272 148.8h1v-0.7h-1zM273 148.8h1v-3.0h-1zM274 148.8h1v-3.2h-1zM275 148.8h1v-3.8h-1zM276 148.8h1v-1.7h-1zM277 148.8h1v-1.4h-1zM278 148.8h1v-1.1h-1zM279 148.8h1v-1.0h-1zM280 148.8h1v-1.5h-1zM281 148.8h1v-0.8h-1zM282 148.8h1v-1.9h-1zM283 148.8h1v-0.9h-1zM284 148.8h1v-0.7h-1zM285 148.8h1v-0.8h-1zM286 148.8h1v-1.9h-1zM287 148.8h1v-0.6h-1zM288 148.8h1v-0.9h-1zM289 148.8h1v-0.7h-1zM290 148.8h1v-0.7h-1zM291 148.8h1v-1.6h-1zM292 148.8h1v-7.0h-1zM293 148.8h1v-3.9h-1zM294 148.8h1v-1.7h-1zM295 148.8h1v-0.8h-1zM296 148.8h1v-1.5h-1zM297 148.8h1v-1.2h-1zM298 148.8h1v-0.4h-1zM299 148.8h1v-1.8h-1zM300 148.8h1v-1.9h-1zM301 148.8h1v-0.8h-1zM302 148.8h1v-1.8h-1zM303 148.8h1v-1.9h-1zM304 148.8h1v-1.9h-1zM305 148.8h1v-0.8h-1zM306 148.8h1v-1.0h-1zM307 148.8h1v-0.8h-1zM308 148.8h1v-0.7h-1zM309 148.8h1v-3.9h-1zM310 148.8h1v-1.8h-1zM311 148.8h1v-1.5h-1zM312 148.8h1v-1.8h-1zM313 148.8h1v-1.5h-1zM314 148.8h1v-1.1h-1zM315 148.8h1v-0.8h-1zM316 148.8h1v-0.8h-1zM317 148.8h1v-1.7h-1zM320 148.8h1v-5.4h-1zM321 148.8h1v-7.0h-1zM322 148.8h1v-8.0h-1zM323 148.8h1v-5.6h-1zM324 148.8h1v-7.9h-1zM325 148.8h1v-18.9h-1zM326 148.8h1v-22.0h-1zM327 148.8h1v-19.6h-1zM328 148.8h1v-5.6h-1zM329 148.8h1v-10.0h-1zM330 148.8h1v-15.0h-1zM331 148.8h1v-16.0h-1zM332 148.8h1v-14.7h-1zM333 148.8h1v-26.5h-1zM334 148.8h1v-33.3h-1zM335 148.8h1v-25.8h-1zM336 148.8h1v-34.6h-1zM337 148.8h1v-26.6h-1zM338 148.8h1v-17.0h-1zM339 148.8h1v-13.2h-1zM340 148.8h1v-8.9h-1zM341 148.8h1v-10.0h-1zM342 148.8h1v-5.5h-1zM344 148.8h1v-8.0h-1zM345 148.8h1v-6.2h-1zM346 148.8h1v-4.1h-1zM347 148.8h1v-2.2h-1zM348 148.8h1v-3.1h-1zM349 148.8h1v-0.4h-1zM350 148.8h1v-4.2h-1zM351 148.8h1v-0.5h-1zM352 148.8h1v-5.7h-1zM353 148.8h1v-26.8h-1zM354 148.8h1v-33.5h-1zM355 148.8h1v-11.0h-1zM356 148.8h1v-12.7h-1zM358 148.8h1v-4.2h-1zM359 148.8h1v-7.0h-1zM360 148.8h1v-4.1h-1zM362 148.8h1v-17.4h-1zM363 148.8h1v-18.5h-1zM364 148.8h1v-5.2h-1zM365 148.8h1v-4.8h-1zM366 148.8h1v-10.7h-1zM367 148.8h1v-15.0h-1zM368 148.8h1v-10.9h-1zM369 148.8h1v-1.8h-1zM370 148.8h1v-4.4h-1zM371 148.8h1v-1.7h-1zM372 148.8h1v-2.2h-1zM373 148.8h1v-2.4h-1zM374 148.8h1v-0.8h-1zM375 148.8h1v-3.2h-1zM376 148.8h1v-2.8h-1zM377 148.8h1v-0.5h-1zM378 148.8h1v-2.3h-1zM379 148.8h1v-3.0h-1zM380 148.8h1v-3.2h-1zM381 148.8h1v-11.5h-1zM382 148.8h1v-10.2h-1zM383 148.8h1v-6.7h-1zM384 148.8h1v-5.7h-1zM385 148.8h1v-5.6h-1zM386 148.8h1v-8.0h-1zM387 148.8h1v-7.4h-1zM388 148.8h1v-6.8h-1zM389 148.8h1v-8.0h-1zM390 148.8h1v-6.5h-1zM392 148.8h1v-9.0h-1zM393 148.8h1v-6.8h-1zM394 148.8h1v-4.4h-1zM395 148.8h1v-2.3h-1zM396 148.8h1v-2.2h-1zM397 148.8h1v-2.5h-1zM398 148.8h1v-3.8h-1zM399 148.8h1v-4.2h-1zM400 148.8h1v-2.1h-1zM401 148.8h1v-0.8h-1zM402 148.8h1v-3.8h-1zM403 148.8h1v-0.7h-1zM404 148.8h1v-0.7h-1zM405 148.8h1v-3.6h-1zM406 148.8h1v-0.6h-1zM408 148.8h1v-8.0h-1zM409 148.8h1v-7.9h-1zM410 148.8h1v-0.4h-1zM411 148.8h1v-1.9h-1zM412 148.8h1v-0.6h-1zM413 148.8h1v-1.9h-1zM414 148.8h1v-2.8h-1zM415 148.8h1v-4.7h-1zM416 148.8h1v-4.1h-1zM417 148.8h1v-0.4h-1zM418 148.8h1v-2.9h-1zM419 148.8h1v-2.2h-1zM421 148.8h1v-9.6h-1zM422 148.8h1v-11.5h-1zM423 148.8h1v-7.4h-1zM424 148.8h1v-5.8h-1zM425 148.8h1v-4.5h-1zM426 148.8h1v-8.0h-1zM427 148.8h1v-7.2h-1zM428 148.8h1v-8.6h-1zM429 148.8h1v-10.0h-1zM430 148.8h1v-8.3h-1zM432 148.8h1v-0.7h-1zM433 148.8h1v-2.0h-1zM434 148.8h1v-3.5h-1zM435 148.8h1v-2.8h-1zM436 148.8h1v-11.0h-1zM437 148.8h1v-11.5h-1zM438 148.8h1v-20.3h-1zM439 148.8h1v-23.0h-1zM440 148.8h1v-19.3h-1zM441 148.8h1v-13.3h-1zM442 148.8h1v-17.0h-1zM443 148.8h1v-16.4h-1zM444 148.8h1v-15.9h-1zM445 148.8h1v-16.3h-1zM446 148.8h1v-17.8h-1zM448 148.8h1v-7.7h-1zM449 148.8h1v-9.0h-1zM450 148.8h1v-6.8h-1zM451 148.8h1v-2.6h-1zM452 148.8h1v-3.6h-1zM455 148.8h1v-0.7h-1zM456 148.8h1v-5.2h-1zM457 148.8h1v-7.0h-1zM458 148.8h1v-6.1h-1zM460 148.8h1v-2.3h-1zM461 148.8h1v-1.6h-1zM462 148.8h1v-1.9h-1zM464 148.8h1v-0.7h-1zM465 148.8h1v-1.9h-1zM466 148.8h1v-12.3h-1zM467 148.8h1v-12.7h-1zM468 148.8h1v-10.7h-1zM469 148.8h1v-10.0h-1zM470 148.8h1v-13.6h-1zM471 148.8h1v-7.8h-1zM472 148.8h1v-13.8h-1zM473 148.8h1v-8.6h-1zM474 148.8h1v-7.2h-1zM475 148.8h1v-8.0h-1zM476 148.8h1v-6.3h-1zM477 148.8h1v-1.2h-1zM478 148.8h1v-2.2h-1zM479 148.8h1v-2.2h-1zM480 148.8h1v-2.5h-1zM481 148.8h1v-2.1h-1zM482 148.8h1v-2.4h-1zM483 148.8h1v-2.8h-1zM484 148.8h1v-2.1h-1zM485 148.8h1v-1.9h-1zM486 148.8h1v-3.0h-1zM488 148.8h1v-4.5h-1zM489 148.8h1v-7.0h-1zM490 148.8h1v-5.1h-1zM491 148.8h1v-1.7h-1zM492 148.8h1v-0.3h-1zM493 148.8h1v-2.0h-1zM494 148.8h1v-1.2h-1zM495 148.8h1v-0.8h-1zM496 148.8h1v-1.0h-1zM497 148.8h1v-1.2h-1zM498 148.8h1v-0.7h-1zM499 148.8h1v-1.2h-1zM500 148.8h1v-0.7h-1zM501 148.8h1v-1.6h-1zM502 148.8h1v-1.2h-1zM503 148.8h1v-1.0h-1zM504 148.8h1v-1.0h-1z" fill="#000"/>
<line x1="39" y1="149.1" x2="505" y2="149.1" stroke="#666" stroke-width="0.7"/>
<text x="36.8" y="119.8" font-size="4.3" font-weight="bold" text-anchor="end" font-family="Liberation Sans, sans-serif" fill="#333" stroke="#333" stroke-width="0.22">25</text>
<text x="36.8" y="150.2" font-size="4.3" font-weight="bold" text-anchor="end" font-family="Liberation Sans, sans-serif" fill="#333" stroke="#333" stroke-width="0.22">0</text>
<text x="0" y="0" font-size="7.4" font-family="Liberation Sans, sans-serif" text-anchor="middle" transform="translate(23.2 131.3) rotate(-90)" stroke="#000" stroke-width="0.22">Pattern 2</text>
<path d="M47 187.3h1v-3.4h-1zM48 187.3h1v-3.2h-1zM49 187.3h1v-2.0h-1zM50 187.3h1v-2.3h-1zM51 187.3h1v-0.4h-1zM53 187.3h1v-2.9h-1zM54 187.3h1v-3.9h-1zM55 187.3h1v-4.1h-1zM56 187.3h1v-0.6h-1zM57 187.3h1v-2.4h-1zM58 187.3h1v-0.3h-1zM59 187.3h1v-3.3h-1zM60 187.3h1v-4.2h-1zM61 187.3h1v-1.7h-1zM62 187.3h1v-0.6h-1zM63 187.3h1v-0.8h-1zM64 187.3h1v-1.8h-1zM65 187.3h1v-3.4h-1zM66 187.3h1v-2.2h-1zM67 187.3h1v-3.1h-1zM68 187.3h1v-4.3h-1zM69 187.3h1v-1.5h-1zM70 187.3h1v-3.5h-1zM71 187.3h1v-3.1h-1zM72 187.3h1v-3.9h-1zM73 187.3h1v-2.5h-1zM74 187.3h1v-4.1h-1zM75 187.3h1v-4.2h-1zM76 187.3h1v-1.6h-1zM77 187.3h1v-2.5h-1zM78 187.3h1v-2.1h-1zM79 187.3h1v-3.8h-1zM80 187.3h1v-4.1h-1zM81 187.3h1v-3.7h-1zM82 187.3h1v-3.9h-1zM83 187.3h1v-3.1h-1zM84 187.3h1v-4.0h-1zM85 187.3h1v-2.3h-1zM86 187.3h1v-1.8h-1zM87 187.3h1v-3.5h-1zM88 187.3h1v-2.7h-1zM89 187.3h1v-1.5h-1zM90 187.3h1v-3.8h-1zM91 187.3h1v-1.8h-1zM92 187.3h1v-2.1h-1zM93 187.3h1v-1.7h-1zM94 187.3h1v-3.2h-1zM95 187.3h1v-0.4h-1zM97 187.3h1v-3.0h-1zM98 187.3h1v-4.2h-1zM99 187.3h1v-1.5h-1zM100 187.3h1v-4.1h-1zM101 187.3h1v-3.6h-1zM102 187.3h1v-2.2h-1zM103 187.3h1v-3.9h-1zM104 187.3h1v-3.3h-1zM105 187.3h1v-2.8h-1zM106 187.3h1v-2.1h-1zM107 187.3h1v-2.7h-1zM108 187.3h1v-2.5h-1zM109 187.3h1v-1.7h-1zM110 187.3h1v-14.3h-1zM111 187.3h1v-2.2h-1zM112 187.3h1v-2.8h-1zM113 187.3h1v-3.1h-1zM114 187.3h1v-3.6h-1zM115 187.3h1v-1.8h-1zM116 187.3h1v-1.8h-1zM117 187.3h1v-4.0h-1zM118 187.3h1v-3.0h-1zM119 187.3h1v-2.1h-1zM121 187.3h1v-3.4h-1zM122 187.3h1v-2.8h-1zM123 187.3h1v-0.4h-1zM124 187.3h1v-4.2h-1zM125 187.3h1v-0.5h-1zM126 187.3h1v-3.3h-1zM127 187.3h1v-0.5h-1zM128 187.3h1v-3.2h-1zM129 187.3h1v-3.2h-1zM130 187.3h1v-1.5h-1zM131 187.3h1v-4.2h-1zM132 187.3h1v-0.8h-1zM133 187.3h1v-2.5h-1zM134 187.3h1v-2.6h-1zM135 187.3h1v-0.4h-1zM136 187.3h1v-0.6h-1zM137 187.3h1v-3.9h-1zM138 187.3h1v-3.1h-1zM139 187.3h1v-4.3h-1zM140 187.3h1v-2.4h-1zM141 187.3h1v-2.6h-1zM142 187.3h1v-3.1h-1zM143 187.3h1v-2.4h-1zM144 187.3h1v-1.9h-1zM145 187.3h1v-0.6h-1zM146 187.3h1v-2.5h-1zM147 187.3h1v-3.9h-1zM148 187.3h1v-3.3h-1zM149 187.3h1v-1.5h-1zM150 187.3h1v-1.8h-1zM151 187.3h1v-2.0h-1zM152 187.3h1v-0.7h-1zM153 187.3h1v-2.0h-1zM154 187.3h1v-3.4h-1zM155 187.3h1v-2.1h-1zM156 187.3h1v-2.7h-1zM157 187.3h1v-2.6h-1zM158 187.3h1v-4.3h-1zM159 187.3h1v-3.5h-1zM160 187.3h1v-3.4h-1zM161 187.3h1v-1.3h-1zM162 187.3h1v-3.2h-1zM163 187.3h1v-2.6h-1zM164 187.3h1v-3.3h-1zM165 187.3h1v-2.6h-1zM166 187.3h1v-2.6h-1zM167 187.3h1v-3.1h-1zM168 187.3h1v-1.3h-1zM169 187.3h1v-1.4h-1zM170 187.3h1v-1.5h-1zM171 187.3h1v-1.2h-1zM172 187.3h1v-0.7h-1zM173 187.3h1v-0.8h-1zM174 187.3h1v-1.4h-1zM175 187.3h1v-2.0h-1zM176 187.3h1v-1.6h-1zM177 187.3h1v-0.5h-1zM178 187.3h1v-3.4h-1zM179 187.3h1v-3.3h-1zM180 187.3h1v-3.3h-1zM181 187.3h1v-1.4h-1zM182 187.3h1v-2.6h-1zM183 187.3h1v-0.3h-1zM185 187.3h1v-2.4h-1zM186 187.3h1v-3.2h-1zM187 187.3h1v-3.3h-1zM188 187.3h1v-2.5h-1zM189 187.3h1v-1.8h-1zM190 187.3h1v-2.9h-1zM191 187.3h1v-2.9h-1zM192 187.3h1v-1.8h-1zM193 187.3h1v-0.7h-1zM194 187.3h1v-0.7h-1zM195 187.3h1v-1.7h-1zM196 187.3h1v-2.1h-1zM197 187.3h1v-2.5h-1zM198 187.3h1v-2.0h-1zM199 187.3h1v-3.3h-1zM200 187.3h1v-1.9h-1zM201 187.3h1v-2.3h-1zM202 187.3h1v-3.1h-1zM203 187.3h1v-1.2h-1zM204 187.3h1v-2.0h-1zM205 187.3h1v-1.6h-1zM206 187.3h1v-2.4h-1zM207 187.3h1v-3.4h-1zM208 187.3h1v-2.1h-1zM209 187.3h1v-3.3h-1zM210 187.3h1v-1.5h-1zM211 187.3h1v-3.4h-1zM212 187.3h1v-0.5h-1zM213 187.3h1v-1.9h-1zM214 187.3h1v-1.8h-1zM215 187.3h1v-3.2h-1zM216 187.3h1v-1.7h-1zM217 187.3h1v-1.3h-1zM218 187.3h1v-1.2h-1zM219 187.3h1v-2.5h-1zM220 187.3h1v-0.6h-1zM221 187.3h1v-2.0h-1zM222 187.3h1v-2.7h-1zM223 187.3h1v-2.4h-1zM224 187.3h1v-3.1h-1zM225 187.3h1v-2.0h-1zM226 187.3h1v-3.0h-1zM227 187.3h1v-2.4h-1zM228 187.3h1v-3.5h-1zM229 187.3h1v-2.8h-1zM230 187.3h1v-3.4h-1zM231 187.3h1v-2.1h-1zM232 187.3h1v-2.7h-1zM233 187.3h1v-1.5h-1zM234 187.3h1v-1.6h-1zM235 187.3h1v-2.6h-1zM236 187.3h1v-1.8h-1zM237 187.3h1v-3.1h-1zM238 187.3h1v-1.4h-1zM239 187.3h1v-3.2h-1zM240 187.3h1v-3.3h-1zM241 187.3h1v-3.5h-1zM242 187.3h1v-1.8h-1zM243 187.3h1v-2.6h-1zM244 187.3h1v-2.6h-1zM245 187.3h1v-2.8h-1zM246 187.3h1v-2.1h-1zM247 187.3h1v-1.4h-1zM248 187.3h1v-2.1h-1zM249 187.3h1v-2.5h-1zM250 187.3h1v-1.4h-1zM251 187.3h1v-2.1h-1zM252 187.3h1v-3.5h-1zM253 187.3h1v-1.5h-1zM254 187.3h1v-3.2h-1zM255 187.3h1v-1.8h-1zM256 187.3h1v-2.6h-1zM257 187.3h1v-1.4h-1zM258 187.3h1v-3.2h-1zM259 187.3h1v-2.8h-1zM260 187.3h1v-1.8h-1zM261 187.3h1v-2.0h-1zM262 187.3h1v-2.0h-1zM263 187.3h1v-2.4h-1zM264 187.3h1v-2.6h-1zM265 187.3h1v-2.7h-1zM266 187.3h1v-1.2h-1zM267 187.3h1v-2.9h-1zM268 187.3h1v-3.5h-1zM269 187.3h1v-2.1h-1zM270 187.3h1v-1.9h-1zM271 187.3h1v-2.6h-1zM272 187.3h1v-3.0h-1zM273 187.3h1v-2.9h-1zM274 187.3h1v-2.2h-1zM275 187.3h1v-1.7h-1zM276 187.3h1v-1.6h-1zM277 187.3h1v-2.9h-1zM278 187.3h1v-0.7h-1zM279 187.3h1v-2.9h-1zM281 187.3h1v-1.5h-1zM282 187.3h1v-0.6h-1zM283 187.3h1v-0.3h-1zM284 187.3h1v-2.1h-1zM285 187.3h1v-1.6h-1zM286 187.3h1v-2.2h-1zM287 187.3h1v-1.9h-1zM288 187.3h1v-2.6h-1zM289 187.3h1v-2.4h-1zM290 187.3h1v-1.8h-1zM291 187.3h1v-1.9h-1zM292 187.3h1v-1.1h-1zM293 187.3h1v-2.3h-1zM294 187.3h1v-1.9h-1zM295 187.3h1v-1.0h-1zM296 187.3h1v-1.1h-1zM297 187.3h1v-1.4h-1zM298 187.3h1v-1.8h-1zM299 187.3h1v-2.0h-1zM300 187.3h1v-0.5h-1zM301 187.3h1v-2.8h-1zM302 187.3h1v-1.3h-1zM303 187.3h1v-1.4h-1zM304 187.3h1v-1.8h-1zM305 187.3h1v-1.8h-1zM306 187.3h1v-2.5h-1zM307 187.3h1v-2.8h-1zM308 187.3h1v-2.2h-1zM309 187.3h1v-2.4h-1zM310 187.3h1v-0.3h-1zM311 187.3h1v-0.4h-1zM312 187.3h1v-1.7h-1zM313 187.3h1v-1.7h-1zM314 187.3h1v-0.5h-1zM315 187.3h1v-0.7h-1zM316 187.3h1v-1.3h-1zM317 187.3h1v-2.3h-1zM318 187.3h1v-0.3h-1zM319 187.3h1v-4.9h-1zM320 187.3h1v-3.5h-1zM321 187.3h1v-5.0h-1zM322 187.3h1v-3.9h-1zM323 187.3h1v-3.5h-1zM324 187.3h1v-4.5h-1zM325 187.3h1v-2.4h-1zM326 187.3h1v-4.8h-1zM327 187.3h1v-3.1h-1zM328 187.3h1v-1.9h-1zM329 187.3h1v-3.6h-1zM330 187.3h1v-0.8h-1zM331 187.3h1v-11.9h-1zM332 187.3h1v-14.3h-1zM333 187.3h1v-14.8h-1zM334 187.3h1v-20.5h-1zM335 187.3h1v-18.8h-1zM336 187.3h1v-14.0h-1zM337 187.3h1v-10.2h-1zM338 187.3h1v-7.4h-1zM339 187.3h1v-4.1h-1zM340 187.3h1v-3.3h-1zM341 187.3h1v-3.6h-1zM342 187.3h1v-5.2h-1zM344 187.3h1v-2.2h-1zM345 187.3h1v-2.8h-1zM346 187.3h1v-2.9h-1zM347 187.3h1v-2.1h-1zM348 187.3h1v-0.5h-1zM349 187.3h1v-1.4h-1zM350 187.3h1v-2.3h-1zM351 187.3h1v-2.7h-1zM352 187.3h1v-2.7h-1zM353 187.3h1v-1.4h-1zM354 187.3h1v-1.6h-1zM355 187.3h1v-3.9h-1zM356 187.3h1v-2.7h-1zM357 187.3h1v-2.6h-1zM358 187.3h1v-2.5h-1zM359 187.3h1v-3.5h-1zM360 187.3h1v-3.1h-1zM361 187.3h1v-3.2h-1zM362 187.3h1v-2.9h-1zM363 187.3h1v-1.7h-1zM364 187.3h1v-2.0h-1zM365 187.3h1v-2.1h-1zM366 187.3h1v-1.4h-1zM367 187.3h1v-3.0h-1zM368 187.3h1v-3.7h-1zM369 187.3h1v-3.9h-1zM370 187.3h1v-0.4h-1zM371 187.3h1v-1.9h-1zM372 187.3h1v-3.0h-1zM373 187.3h1v-1.4h-1zM374 187.3h1v-1.9h-1zM375 187.3h1v-2.4h-1zM376 187.3h1v-3.4h-1zM377 187.3h1v-1.5h-1zM378 187.3h1v-0.7h-1zM379 187.3h1v-2.0h-1zM380 187.3h1v-2.0h-1zM381 187.3h1v-1.8h-1zM382 187.3h1v-2.9h-1zM383 187.3h1v-1.8h-1zM384 187.3h1v-1.4h-1zM385 187.3h1v-3.7h-1zM386 187.3h1v-2.6h-1zM387 187.3h1v-2.5h-1zM388 187.3h1v-2.0h-1zM389 187.3h1v-3.7h-1zM390 187.3h1v-4.0h-1zM391 187.3h1v-1.5h-1zM392 187.3h1v-3.2h-1zM393 187.3h1v-3.2h-1zM394 187.3h1v-2.9h-1zM395 187.3h1v-2.5h-1zM396 187.3h1v-0.6h-1zM397 187.3h1v-3.3h-1zM398 187.3h1v-1.4h-1zM399 187.3h1v-3.7h-1zM400 187.3h1v-1.6h-1zM401 187.3h1v-1.8h-1zM402 187.3h1v-2.4h-1zM403 187.3h1v-1.4h-1zM404 187.3h1v-3.7h-1zM405 187.3h1v-2.4h-1zM406 187.3h1v-2.3h-1zM407 187.3h1v-2.3h-1zM408 187.3h1v-3.7h-1zM409 187.3h1v-2.3h-1zM410 187.3h1v-3.1h-1zM411 187.3h1v-3.9h-1zM412 187.3h1v-2.5h-1zM413 187.3h1v-3.8h-1zM414 187.3h1v-2.8h-1zM415 187.3h1v-2.4h-1zM416 187.3h1v-2.6h-1zM417 187.3h1v-2.3h-1zM418 187.3h1v-2.5h-1zM419 187.3h1v-0.6h-1zM420 187.3h1v-1.4h-1zM421 187.3h1v-0.4h-1zM422 187.3h1v-2.0h-1zM423 187.3h1v-1.7h-1zM424 187.3h1v-1.9h-1zM425 187.3h1v-2.8h-1zM426 187.3h1v-3.5h-1zM427 187.3h1v-2.8h-1zM428 187.3h1v-2.6h-1zM429 187.3h1v-3.5h-1zM430 187.3h1v-2.0h-1zM431 187.3h1v-2.3h-1zM432 187.3h1v-1.9h-1zM433 187.3h1v-2.4h-1zM434 187.3h1v-3.0h-1zM435 187.3h1v-2.9h-1zM436 187.3h1v-2.2h-1zM437 187.3h1v-0.4h-1zM438 187.3h1v-1.9h-1zM439 187.3h1v-3.7h-1zM440 187.3h1v-3.2h-1zM441 187.3h1v-3.9h-1zM442 187.3h1v-4.0h-1zM443 187.3h1v-3.0h-1zM444 187.3h1v-2.5h-1zM445 187.3h1v-4.0h-1zM446 187.3h1v-2.8h-1zM447 187.3h1v-0.4h-1zM449 187.3h1v-1.7h-1zM450 187.3h1v-3.4h-1zM451 187.3h1v-3.2h-1zM452 187.3h1v-1.9h-1zM453 187.3h1v-1.8h-1zM454 187.3h1v-1.8h-1zM455 187.3h1v-0.8h-1zM456 187.3h1v-1.8h-1zM457 187.3h1v-0.9h-1zM458 187.3h1v-0.7h-1zM459 187.3h1v-1.7h-1zM460 187.3h1v-1.7h-1zM461 187.3h1v-1.8h-1zM462 187.3h1v-0.7h-1zM463 187.3h1v-1.0h-1zM464 187.3h1v-0.4h-1zM465 187.3h1v-0.5h-1zM466 187.3h1v-2.0h-1zM467 187.3h1v-1.9h-1zM468 187.3h1v-1.8h-1zM469 187.3h1v-1.0h-1zM470 187.3h1v-0.5h-1zM471 187.3h1v-0.8h-1zM472 187.3h1v-1.1h-1zM473 187.3h1v-0.6h-1zM474 187.3h1v-0.7h-1zM475 187.3h1v-1.2h-1zM476 187.3h1v-1.9h-1zM478 187.3h1v-1.6h-1zM479 187.3h1v-1.6h-1zM480 187.3h1v-0.5h-1zM481 187.3h1v-2.1h-1zM482 187.3h1v-1.0h-1zM483 187.3h1v-1.2h-1zM484 187.3h1v-1.9h-1zM485 187.3h1v-1.7h-1zM486 187.3h1v-2.0h-1zM487 187.3h1v-0.8h-1zM488 187.3h1v-1.7h-1zM489 187.3h1v-1.4h-1zM490 187.3h1v-2.2h-1zM491 187.3h1v-1.3h-1zM492 187.3h1v-2.0h-1zM493 187.3h1v-0.9h-1zM494 187.3h1v-1.1h-1zM495 187.3h1v-1.1h-1zM496 187.3h1v-1.6h-1zM497 187.3h1v-1.0h-1zM498 187.3h1v-1.7h-1zM499 187.3h1v-1.3h-1zM500 187.3h1v-1.6h-1zM502 187.3h1v-1.8h-1zM503 187.3h1v-0.9h-1zM504 187.3h1v-1.8h-1z" fill="#000"/>
<line x1="39" y1="187.6" x2="505" y2="187.6" stroke="#666" stroke-width="0.7"/>
<text x="36.8" y="158.3" font-size="4.3" font-weight="bold" text-anchor="end" font-family="Liberation Sans, sans-serif" fill="#333" stroke="#333" stroke-width="0.22">25</text>
<text x="36.8" y="188.7" font-size="4.3" font-weight="bold" text-anchor="end" font-family="Liberation Sans, sans-serif" fill="#333" stroke="#333" stroke-width="0.22">0</text>
<text x="0" y="0" font-size="7.4" font-family="Liberation Sans, sans-serif" text-anchor="middle" transform="translate(23.2 169.8) rotate(-90)" stroke="#000" stroke-width="0.22">Pattern 3</text>
<path d="M47 225.8h1v-2.6h-1zM48 225.8h1v-2.1h-1zM49 225.8h1v-0.5h-1zM50 225.8h1v-0.4h-1zM51 225.8h1v-2.6h-1zM52 225.8h1v-1.5h-1zM53 225.8h1v-2.4h-1zM54 225.8h1v-1.6h-1zM55 225.8h1v-0.6h-1zM57 225.8h1v-2.6h-1zM58 225.8h1v-2.9h-1zM59 225.8h1v-3.3h-1zM60 225.8h1v-3.2h-1zM61 225.8h1v-3.2h-1zM62 225.8h1v-3.0h-1zM63 225.8h1v-2.4h-1zM64 225.8h1v-2.0h-1zM66 225.8h1v-2.2h-1zM67 225.8h1v-3.2h-1zM68 225.8h1v-1.7h-1zM69 225.8h1v-0.3h-1zM70 225.8h1v-3.3h-1zM71 225.8h1v-2.1h-1zM72 225.8h1v-0.4h-1zM73 225.8h1v-3.0h-1zM74 225.8h1v-1.2h-1zM75 225.8h1v-2.7h-1zM76 225.8h1v-1.2h-1zM77 225.8h1v-7.7h-1zM78 225.8h1v-9.7h-1zM79 225.8h1v-2.7h-1zM80 225.8h1v-2.0h-1zM81 225.8h1v-1.7h-1zM82 225.8h1v-0.8h-1zM83 225.8h1v-3.3h-1zM84 225.8h1v-2.0h-1zM85 225.8h1v-2.7h-1zM86 225.8h1v-3.2h-1zM87 225.8h1v-1.2h-1zM88 225.8h1v-1.2h-1zM89 225.8h1v-2.8h-1zM90 225.8h1v-1.7h-1zM91 225.8h1v-2.0h-1zM92 225.8h1v-0.6h-1zM93 225.8h1v-2.2h-1zM94 225.8h1v-0.7h-1zM96 225.8h1v-2.3h-1zM97 225.8h1v-3.5h-1zM98 225.8h1v-3.0h-1zM99 225.8h1v-2.3h-1zM100 225.8h1v-3.4h-1zM101 225.8h1v-3.0h-1zM103 225.8h1v-1.5h-1zM104 225.8h1v-1.9h-1zM105 225.8h1v-0.6h-1zM106 225.8h1v-1.2h-1zM107 225.8h1v-3.2h-1zM108 225.8h1v-3.9h-1zM109 225.8h1v-1.9h-1zM110 225.8h1v-2.6h-1zM111 225.8h1v-3.4h-1zM112 225.8h1v-1.7h-1zM113 225.8h1v-0.7h-1zM114 225.8h1v-3.0h-1zM116 225.8h1v-2.9h-1zM117 225.8h1v-1.3h-1zM118 225.8h1v-3.0h-1zM119 225.8h1v-2.2h-1zM120 225.8h1v-2.2h-1zM121 225.8h1v-1.5h-1zM122 225.8h1v-3.4h-1zM123 225.8h1v-2.8h-1zM124 225.8h1v-3.1h-1zM125 225.8h1v-0.7h-1zM126 225.8h1v-3.3h-1zM127 225.8h1v-1.5h-1zM128 225.8h1v-1.9h-1zM129 225.8h1v-2.3h-1zM130 225.8h1v-2.0h-1zM131 225.8h1v-2.9h-1zM132 225.8h1v-2.3h-1zM133 225.8h1v-2.1h-1zM134 225.8h1v-2.1h-1zM135 225.8h1v-2.7h-1zM136 225.8h1v-2.7h-1zM137 225.8h1v-0.8h-1zM138 225.8h1v-0.5h-1zM139 225.8h1v-3.3h-1zM140 225.8h1v-2.5h-1zM141 225.8h1v-1.6h-1zM142 225.8h1v-2.6h-1zM143 225.8h1v-1.2h-1zM144 225.8h1v-1.5h-1zM145 225.8h1v-2.6h-1zM146 225.8h1v-2.5h-1zM147 225.8h1v-0.7h-1zM148 225.8h1v-2.9h-1zM149 225.8h1v-1.3h-1zM150 225.8h1v-3.3h-1zM151 225.8h1v-1.3h-1zM152 225.8h1v-1.4h-1zM153 225.8h1v-3.4h-1zM154 225.8h1v-3.4h-1zM155 225.8h1v-2.4h-1zM156 225.8h1v-1.2h-1zM157 225.8h1v-1.7h-1zM158 225.8h1v-2.4h-1zM159 225.8h1v-0.7h-1zM160 225.8h1v-2.9h-1zM161 225.8h1v-1.1h-1zM162 225.8h1v-2.9h-1zM163 225.8h1v-2.7h-1zM164 225.8h1v-2.9h-1zM165 225.8h1v-1.4h-1zM166 225.8h1v-1.1h-1zM167 225.8h1v-2.4h-1zM168 225.8h1v-1.0h-1zM169 225.8h1v-0.7h-1zM170 225.8h1v-0.7h-1zM171 225.8h1v-1.4h-1zM172 225.8h1v-1.1h-1zM173 225.8h1v-2.6h-1zM174 225.8h1v-2.9h-1zM175 225.8h1v-1.5h-1zM176 225.8h1v-0.6h-1zM177 225.8h1v-0.7h-1zM178 225.8h1v-1.9h-1zM179 225.8h1v-1.5h-1zM180 225.8h1v-1.6h-1zM181 225.8h1v-1.8h-1zM182 225.8h1v-3.0h-1zM183 225.8h1v-2.5h-1zM184 225.8h1v-1.5h-1zM185 225.8h1v-1.8h-1zM186 225.8h1v-2.1h-1zM187 225.8h1v-1.7h-1zM188 225.8h1v-1.3h-1zM189 225.8h1v-2.5h-1zM190 225.8h1v-2.7h-1zM191 225.8h1v-2.6h-1zM192 225.8h1v-0.7h-1zM193 225.8h1v-2.2h-1zM194 225.8h1v-1.5h-1zM195 225.8h1v-2.0h-1zM196 225.8h1v-0.3h-1zM197 225.8h1v-2.4h-1zM198 225.8h1v-2.4h-1zM199 225.8h1v-3.0h-1zM200 225.8h1v-2.6h-1zM201 225.8h1v-2.3h-1zM202 225.8h1v-1.2h-1zM203 225.8h1v-2.2h-1zM204 225.8h1v-1.1h-1zM205 225.8h1v-2.4h-1zM206 225.8h1v-1.8h-1zM207 225.8h1v-2.1h-1zM208 225.8h1v-2.3h-1zM209 225.8h1v-1.9h-1zM210 225.8h1v-2.3h-1zM211 225.8h1v-1.9h-1zM212 225.8h1v-2.1h-1zM213 225.8h1v-1.9h-1zM214 225.8h1v-2.3h-1zM215 225.8h1v-1.9h-1zM216 225.8h1v-1.7h-1zM217 225.8h1v-2.1h-1zM218 225.8h1v-1.7h-1zM219 225.8h1v-2.6h-1zM220 225.8h1v-2.6h-1zM221 225.8h1v-2.7h-1zM223 225.8h1v-1.1h-1zM224 225.8h1v-2.9h-1zM225 225.8h1v-1.5h-1zM226 225.8h1v-2.3h-1zM227 225.8h1v-2.6h-1zM228 225.8h1v-1.1h-1zM229 225.8h1v-2.6h-1zM230 225.8h1v-2.3h-1zM231 225.8h1v-2.8h-1zM232 225.8h1v-2.5h-1zM233 225.8h1v-1.5h-1zM234 225.8h1v-2.7h-1zM235 225.8h1v-2.7h-1zM236 225.8h1v-1.7h-1zM237 225.8h1v-2.2h-1zM238 225.8h1v-2.1h-1zM239 225.8h1v-3.0h-1zM240 225.8h1v-1.1h-1zM241 225.8h1v-2.5h-1zM242 225.8h1v-1.7h-1zM243 225.8h1v-1.4h-1zM244 225.8h1v-1.3h-1zM245 225.8h1v-1.7h-1zM246 225.8h1v-0.5h-1zM247 225.8h1v-0.4h-1zM248 225.8h1v-2.3h-1zM249 225.8h1v-1.3h-1zM251 225.8h1v-0.4h-1zM252 225.8h1v-2.3h-1zM253 225.8h1v-2.8h-1zM254 225.8h1v-1.6h-1zM255 225.8h1v-1.7h-1zM256 225.8h1v-2.7h-1zM257 225.8h1v-1.8h-1zM258 225.8h1v-1.8h-1zM259 225.8h1v-2.4h-1zM261 225.8h1v-1.7h-1zM262 225.8h1v-2.3h-1zM263 225.8h1v-2.0h-1zM264 225.8h1v-0.3h-1zM265 225.8h1v-2.3h-1zM266 225.8h1v-1.5h-1zM267 225.8h1v-1.6h-1zM268 225.8h1v-1.9h-1zM269 225.8h1v-1.2h-1zM270 225.8h1v-2.2h-1zM271 225.8h1v-0.8h-1zM272 225.8h1v-0.6h-1zM273 225.8h1v-2.0h-1zM274 225.8h1v-1.0h-1zM275 225.8h1v-1.2h-1zM276 225.8h1v-2.0h-1zM277 225.8h1v-2.3h-1zM278 225.8h1v-2.2h-1zM279 225.8h1v-2.0h-1zM280 225.8h1v-2.6h-1zM281 225.8h1v-1.5h-1zM282 225.8h1v-2.1h-1zM283 225.8h1v-1.0h-1zM284 225.8h1v-1.5h-1zM285 225.8h1v-2.2h-1zM286 225.8h1v-1.6h-1zM287 225.8h1v-2.1h-1zM288 225.8h1v-2.8h-1zM289 225.8h1v-1.5h-1zM290 225.8h1v-1.5h-1zM291 225.8h1v-1.9h-1zM292 225.8h1v-2.0h-1zM293 225.8h1v-0.8h-1zM294 225.8h1v-1.2h-1zM295 225.8h1v-1.2h-1zM296 225.8h1v-2.9h-1zM297 225.8h1v-1.6h-1zM298 225.8h1v-2.5h-1zM299 225.8h1v-2.8h-1zM300 225.8h1v-2.4h-1zM301 225.8h1v-1.7h-1zM302 225.8h1v-1.1h-1zM303 225.8h1v-2.5h-1zM304 225.8h1v-2.9h-1zM305 225.8h1v-1.8h-1zM306 225.8h1v-2.2h-1zM307 225.8h1v-1.5h-1zM308 225.8h1v-1.5h-1zM309 225.8h1v-0.5h-1zM310 225.8h1v-0.7h-1zM311 225.8h1v-2.2h-1zM312 225.8h1v-2.9h-1zM317 225.8h1v-3.2h-1zM318 225.8h1v-2.5h-1zM319 225.8h1v-1.3h-1zM320 225.8h1v-1.6h-1zM321 225.8h1v-3.2h-1zM322 225.8h1v-1.4h-1zM323 225.8h1v-2.2h-1zM324 225.8h1v-2.1h-1zM325 225.8h1v-2.1h-1zM326 225.8h1v-3.4h-1zM327 225.8h1v-2.7h-1zM328 225.8h1v-3.0h-1zM329 225.8h1v-0.5h-1zM330 225.8h1v-0.4h-1zM331 225.8h1v-3.4h-1zM332 225.8h1v-2.8h-1zM333 225.8h1v-2.2h-1zM334 225.8h1v-3.5h-1zM336 225.8h1v-0.6h-1zM337 225.8h1v-2.1h-1zM338 225.8h1v-1.5h-1zM339 225.8h1v-2.9h-1zM340 225.8h1v-1.2h-1zM341 225.8h1v-1.7h-1zM342 225.8h1v-1.6h-1zM343 225.8h1v-2.4h-1zM344 225.8h1v-3.3h-1zM345 225.8h1v-1.9h-1zM346 225.8h1v-0.4h-1zM347 225.8h1v-2.1h-1zM348 225.8h1v-2.2h-1zM349 225.8h1v-1.4h-1zM350 225.8h1v-3.2h-1zM351 225.8h1v-2.5h-1zM352 225.8h1v-1.2h-1zM353 225.8h1v-2.3h-1zM354 225.8h1v-3.2h-1zM355 225.8h1v-1.7h-1zM356 225.8h1v-2.2h-1zM357 225.8h1v-3.1h-1zM358 225.8h1v-1.6h-1zM359 225.8h1v-2.0h-1zM360 225.8h1v-3.2h-1zM361 225.8h1v-2.5h-1zM363 225.8h1v-3.1h-1zM364 225.8h1v-0.6h-1zM365 225.8h1v-0.5h-1zM366 225.8h1v-1.3h-1zM367 225.8h1v-2.6h-1zM368 225.8h1v-1.9h-1zM369 225.8h1v-1.6h-1zM370 225.8h1v-3.5h-1zM371 225.8h1v-1.6h-1zM372 225.8h1v-2.4h-1zM373 225.8h1v-2.4h-1zM374 225.8h1v-1.4h-1zM375 225.8h1v-2.1h-1zM376 225.8h1v-2.7h-1zM377 225.8h1v-1.9h-1zM378 225.8h1v-2.1h-1zM379 225.8h1v-3.2h-1zM380 225.8h1v-2.8h-1zM381 225.8h1v-1.9h-1zM382 225.8h1v-1.8h-1zM383 225.8h1v-2.1h-1zM384 225.8h1v-2.2h-1zM385 225.8h1v-2.4h-1zM386 225.8h1v-1.9h-1zM387 225.8h1v-1.5h-1zM388 225.8h1v-0.6h-1zM389 225.8h1v-0.5h-1zM390 225.8h1v-3.4h-1zM391 225.8h1v-2.7h-1zM392 225.8h1v-2.8h-1zM393 225.8h1v-1.5h-1zM394 225.8h1v-3.3h-1zM395 225.8h1v-2.0h-1zM396 225.8h1v-2.2h-1zM397 225.8h1v-0.6h-1zM398 225.8h1v-2.7h-1zM399 225.8h1v-0.3h-1zM400 225.8h1v-1.2h-1zM401 225.8h1v-1.3h-1zM402 225.8h1v-3.4h-1zM403 225.8h1v-3.1h-1zM404 225.8h1v-1.3h-1zM405 225.8h1v-1.7h-1zM406 225.8h1v-2.2h-1zM407 225.8h1v-1.6h-1zM408 225.8h1v-0.7h-1zM410 225.8h1v-2.6h-1zM411 225.8h1v-2.1h-1zM412 225.8h1v-2.9h-1zM413 225.8h1v-1.6h-1zM414 225.8h1v-1.6h-1zM415 225.8h1v-1.6h-1zM416 225.8h1v-3.2h-1zM417 225.8h1v-1.5h-1zM418 225.8h1v-1.5h-1zM419 225.8h1v-3.2h-1zM420 225.8h1v-3.1h-1zM421 225.8h1v-2.3h-1zM423 225.8h1v-2.9h-1zM424 225.8h1v-2.9h-1zM425 225.8h1v-1.6h-1zM426 225.8h1v-0.4h-1zM428 225.8h1v-2.9h-1zM429 225.8h1v-0.5h-1zM430 225.8h1v-2.4h-1zM431 225.8h1v-1.5h-1zM432 225.8h1v-3.0h-1zM433 225.8h1v-2.8h-1zM434 225.8h1v-2.4h-1zM435 225.8h1v-2.3h-1zM436 225.8h1v-1.6h-1zM437 225.8h1v-1.4h-1zM438 225.8h1v-1.3h-1zM439 225.8h1v-0.5h-1zM440 225.8h1v-3.1h-1zM441 225.8h1v-2.8h-1zM442 225.8h1v-2.2h-1zM443 225.8h1v-2.2h-1zM444 225.8h1v-3.2h-1zM445 225.8h1v-3.3h-1zM446 225.8h1v-1.5h-1zM447 225.8h1v-0.4h-1zM448 225.8h1v-2.2h-1zM449 225.8h1v-2.9h-1zM450 225.8h1v-3.2h-1zM451 225.8h1v-3.0h-1zM452 225.8h1v-1.8h-1zM453 225.8h1v-1.2h-1zM454 225.8h1v-1.1h-1zM455 225.8h1v-1.5h-1zM456 225.8h1v-1.0h-1zM457 225.8h1v-2.1h-1zM458 225.8h1v-1.7h-1zM459 225.8h1v-1.1h-1zM460 225.8h1v-2.1h-1zM461 225.8h1v-1.2h-1zM462 225.8h1v-0.9h-1zM463 225.8h1v-1.1h-1zM464 225.8h1v-1.7h-1zM465 225.8h1v-0.5h-1zM466 225.8h1v-1.0h-1zM467 225.8h1v-0.9h-1zM468 225.8h1v-1.0h-1zM469 225.8h1v-1.2h-1zM470 225.8h1v-1.3h-1zM471 225.8h1v-0.8h-1zM472 225.8h1v-1.2h-1zM473 225.8h1v-1.7h-1zM474 225.8h1v-1.0h-1zM475 225.8h1v-1.7h-1zM476 225.8h1v-0.3h-1zM477 225.8h1v-0.4h-1zM478 225.8h1v-1.4h-1zM479 225.8h1v-0.7h-1zM480 225.8h1v-1.8h-1zM481 225.8h1v-2.0h-1zM482 225.8h1v-0.7h-1zM483 225.8h1v-1.0h-1zM484 225.8h1v-1.1h-1zM485 225.8h1v-1.2h-1zM486 225.8h1v-1.6h-1zM487 225.8h1v-0.7h-1zM488 225.8h1v-1.0h-1zM489 225.8h1v-1.4h-1zM490 225.8h1v-1.8h-1zM491 225.8h1v-0.5h-1zM492 225.8h1v-2.0h-1zM493 225.8h1v-1.6h-1zM494 225.8h1v-1.2h-1zM495 225.8h1v-1.6h-1zM496 225.8h1v-0.9h-1zM497 225.8h1v-0.7h-1zM498 225.8h1v-1.0h-1zM499 225.8h1v-0.9h-1zM500 225.8h1v-1.2h-1zM501 225.8h1v-1.0h-1zM502 225.8h1v-1.2h-1zM503 225.8h1v-1.4h-1zM504 225.8h1v-1.2h-1z" fill="#000"/>
<line x1="39" y1="226.1" x2="505" y2="226.1" stroke="#666" stroke-width="0.7"/>
<text x="36.8" y="196.8" font-size="4.3" font-weight="bold" text-anchor="end" font-family="Liberation Sans, sans-serif" fill="#333" stroke="#333" stroke-width="0.22">25</text>
<text x="36.8" y="227.2" font-size="4.3" font-weight="bold" text-anchor="end" font-family="Liberation Sans, sans-serif" fill="#333" stroke="#333" stroke-width="0.22">0</text>
<text x="0" y="0" font-size="7.4" font-family="Liberation Sans, sans-serif" text-anchor="middle" transform="translate(23.2 208.3) rotate(-90)" stroke="#000" stroke-width="0.22">Pattern 4</text>
<rect x="39.2" y="1.5" width="465.6" height="230.5" fill="none" stroke="#707070" stroke-width="1.2"/>
<line x1="39" y1="27" x2="505" y2="27" stroke="#606060" stroke-width="1.5"/>
<text x="180.3" y="238.7" font-size="7" text-anchor="middle" font-family="Liberation Sans, sans-serif" stroke="#000" stroke-width="0.22">DP</text>
<text x="334.5" y="238.7" font-size="7" text-anchor="middle" font-family="Liberation Sans, sans-serif" stroke="#000" stroke-width="0.22">PP</text>
<text x="354.7" y="238.7" font-size="7" text-anchor="middle" font-family="Liberation Sans, sans-serif" stroke="#000" stroke-width="0.22">+85</text>
<text x="2.2" y="259.1" font-size="11.6" font-weight="bold" font-family="Liberation Sans, sans-serif">B</text>
<text x="1" y="271.2" font-size="5" font-family="Liberation Sans, sans-serif" fill="#c04a66" textLength="20.5" lengthAdjust="spacing" stroke="#c04a66" stroke-width="0.22">1 3 4 2</text>
<text x="1" y="278.1" font-size="5" font-family="Liberation Sans, sans-serif" fill="#e2cf4a" textLength="37.5" lengthAdjust="spacing" stroke="#e2cf4a" stroke-width="0.22">8 9 7 11 10 6 5</text>
<text x="1" y="285.8" font-size="5" font-family="Liberation Sans, sans-serif" fill="#3f68b0" textLength="39.5" lengthAdjust="spacing" stroke="#3f68b0" stroke-width="0.22">16 17 14 13 15 12</text>
<text x="1" y="293.6" font-size="5" font-family="Liberation Sans, sans-serif" fill="#4aa062" textLength="39.5" lengthAdjust="spacing" stroke="#4aa062" stroke-width="0.22">19 24 23 21 22 26</text>
<text x="1" y="299.3" font-size="5" font-family="Liberation Sans, sans-serif" fill="#4aa062" textLength="18.5" lengthAdjust="spacing" stroke="#4aa062" stroke-width="0.22">20 18 25</text>
<rect x="40.00" y="297.3" width="3.07" height="47.3" fill="#000"/>
<rect x="43.02" y="297.3" width="3.07" height="47.3" fill="#111"/>
<rect x="46.04" y="297.3" width="3.07" height="47.3" fill="#444"/>
<rect x="49.06" y="297.3" width="3.07" height="47.3" fill="#888"/>
<rect x="52.08" y="297.3" width="6.09" height="47.3" fill="#c8c8c8"/>
<rect x="58.12" y="297.3" width="9.11" height="47.3" fill="#e8e8e8"/>
<rect x="67.17" y="297.3" width="3.07" height="47.3" fill="#c0c0c0"/>
<rect x="70.19" y="297.3" width="15.15" height="47.3" fill="#e8e8e8"/>
<rect x="85.29" y="297.3" width="6.09" height="47.3" fill="#f8f8f8"/>
<rect x="91.33" y="297.3" width="9.11" height="47.3" fill="#ebebeb"/>
<rect x="100.38" y="297.3" width="3.07" height="47.3" fill="#f8f8f8"/>
<rect x="103.40" y="297.3" width="3.07" height="47.3" fill="#ebebeb"/>
<rect x="106.42" y="297.3" width="6.09" height="47.3" fill="#c8c8c8"/>
<rect x="112.46" y="297.3" width="6.09" height="47.3" fill="#e8e8e8"/>
<rect x="40.00" y="344.6" width="3.07" height="47.2" fill="#000"/>
<rect x="43.02" y="344.6" width="3.07" height="47.2" fill="#999"/>
<rect x="46.04" y="344.6" width="3.07" height="47.2" fill="#f0f0f0"/>
<rect x="49.06" y="344.6" width="3.07" height="47.2" fill="#d0d0d0"/>
<rect x="52.08" y="344.6" width="6.09" height="47.2" fill="#909090"/>
<rect x="58.12" y="344.6" width="9.11" height="47.2" fill="#4a4a4a"/>
<rect x="67.17" y="344.6" width="3.07" height="47.2" fill="#000"/>
<rect x="70.19" y="344.6" width="3.07" height="47.2" fill="#505050"/>
<rect x="73.21" y="344.6" width="3.07" height="47.2" fill="#999"/>
<rect x="76.23" y="344.6" width="15.15" height="47.2" fill="#c8c8c8"/>
<rect x="91.33" y="344.6" width="3.07" height="47.2" fill="#777"/>
<rect x="94.35" y="344.6" width="9.11" height="47.2" fill="#c8c8c8"/>
<rect x="103.40" y="344.6" width="6.09" height="47.2" fill="#ececec"/>
<rect x="109.44" y="344.6" width="3.07" height="47.2" fill="#f8f8f8"/>
<rect x="112.46" y="344.6" width="6.09" height="47.2" fill="#ececec"/>
<rect x="40.00" y="391.8" width="3.07" height="47.2" fill="#000"/>
<rect x="43.02" y="391.8" width="3.07" height="47.2" fill="#505050"/>
<rect x="46.04" y="391.8" width="6.09" height="47.2" fill="#909090"/>
<rect x="52.08" y="391.8" width="15.15" height="47.2" fill="#444"/>
<rect x="67.17" y="391.8" width="12.13" height="47.2" fill="#999"/>
<rect x="79.25" y="391.8" width="6.09" height="47.2" fill="#404040"/>
<rect x="85.29" y="391.8" width="3.07" height="47.2" fill="#aaa"/>
<rect x="88.31" y="391.8" width="3.07" height="47.2" fill="#e0e0e0"/>
<rect x="91.33" y="391.8" width="6.09" height="47.2" fill="#f4f4f4"/>
<rect x="97.37" y="391.8" width="3.07" height="47.2" fill="#d8d8d8"/>
<rect x="100.38" y="391.8" width="6.09" height="47.2" fill="#ececec"/>
<rect x="106.42" y="391.8" width="12.13" height="47.2" fill="#f8f8f8"/>
<rect x="40.0" y="297.3" width="78.5" height="141.7" fill="none" stroke="#333" stroke-width="0.9"/>
<text x="21.5" y="325.3" font-size="6.3" font-weight="bold" text-anchor="middle" font-family="Liberation Sans, sans-serif" stroke="#000" stroke-width="0.22">DP</text>
<text x="21.5" y="370.0" font-size="6.3" font-weight="bold" text-anchor="middle" font-family="Liberation Sans, sans-serif" stroke="#000" stroke-width="0.22">+85</text>
<text x="21.5" y="417.1" font-size="6.3" font-weight="bold" text-anchor="middle" font-family="Liberation Sans, sans-serif" stroke="#000" stroke-width="0.22">PP</text>
<rect x="40.1" y="441.3" width="14.1" height="3" fill="#000"/>
<rect x="54.2" y="441.3" width="14.8" height="3" fill="#4a4a4a"/>
<rect x="69" y="441.3" width="16.6" height="3" fill="#9a9a9a"/>
<rect x="85.6" y="441.3" width="16.5" height="3" fill="#cacaca"/>
<rect x="102.1" y="441.3" width="16.5" height="3" fill="#f4f4f4"/>
<rect x="40.1" y="441.3" width="78.5" height="3" fill="none" stroke="#444" stroke-width="0.5"/>
<text x="41.2" y="449.9" font-size="5.6" text-anchor="middle" font-family="Liberation Sans, sans-serif" stroke="#000" stroke-width="0.22">1</text>
<text x="58.7" y="449.9" font-size="5.6" text-anchor="middle" font-family="Liberation Sans, sans-serif" stroke="#000" stroke-width="0.22">0.8</text>
<text x="74.8" y="449.9" font-size="5.6" text-anchor="middle" font-family="Liberation Sans, sans-serif" stroke="#000" stroke-width="0.22">0.6</text>
<text x="90.1" y="449.9" font-size="5.6" text-anchor="middle" font-family="Liberation Sans, sans-serif" stroke="#000" stroke-width="0.22">0.4</text>
<text x="105.8" y="449.9" font-size="5.6" text-anchor="middle" font-family="Liberation Sans, sans-serif" stroke="#000" stroke-width="0.22">0.2</text>
<text x="117.4" y="449.9" font-size="5.6" text-anchor="middle" font-family="Liberation Sans, sans-serif" stroke="#000" stroke-width="0.22">0</text>
<line x1="41.5" y1="261.2" x2="83.3" y2="261.2" stroke="#d4c0cc" stroke-width="0.7"/>
<line x1="41.5" y1="261.2" x2="41.5" y2="297.0" stroke="#d0607c" stroke-width="0.8"/>
<line x1="83.3" y1="261.2" x2="83.3" y2="276.6" stroke="#c8c8d2" stroke-width="0.7"/>
<line x1="46.7" y1="276.6" x2="104.2" y2="276.6" stroke="#c8c8d2" stroke-width="0.7"/>
<line x1="46.7" y1="276.6" x2="46.7" y2="281.3" stroke="#cc4a64" stroke-width="0.8"/>
<line x1="44.5" y1="281.3" x2="49.1" y2="281.3" stroke="#cc4a64" stroke-width="0.8"/>
<line x1="44.5" y1="281.3" x2="44.5" y2="297.0" stroke="#cc4a64" stroke-width="0.8"/>
<line x1="49.1" y1="281.3" x2="49.1" y2="291" stroke="#cc4a64" stroke-width="0.8"/>
<line x1="47.5" y1="291" x2="50.6" y2="291" stroke="#cc4a64" stroke-width="0.8"/>
<line x1="47.5" y1="291" x2="47.5" y2="297.0" stroke="#cc4a64" stroke-width="0.8"/>
<line x1="50.6" y1="291" x2="50.6" y2="297.0" stroke="#cc4a64" stroke-width="0.8"/>
<line x1="74.3" y1="276.6" x2="74.3" y2="283.2" stroke="#c8c8d2" stroke-width="0.7"/>
<line x1="61.5" y1="283.2" x2="81.5" y2="283.2" stroke="#c0c0d8" stroke-width="0.7"/>
<line x1="61.5" y1="283.2" x2="61.5" y2="286.0" stroke="#e6dc6a" stroke-width="0.7"/>
<line x1="81.5" y1="283.2" x2="81.5" y2="288.0" stroke="#4f80c0" stroke-width="0.7"/>
<line x1="104.2" y1="276.6" x2="104.2" y2="286.4" stroke="#c8c8d2" stroke-width="0.7"/>
<line x1="53.6" y1="291.5" x2="53.6" y2="297.0" stroke="#e6dc6a" stroke-width="0.7"/>
<line x1="56.6" y1="294.2" x2="56.6" y2="297.0" stroke="#e6dc6a" stroke-width="0.7"/>
<line x1="59.6" y1="294.2" x2="59.6" y2="297.0" stroke="#e6dc6a" stroke-width="0.7"/>
<line x1="56.6" y1="291.5" x2="59.6" y2="291.5" stroke="#e6dc6a" stroke-width="0.7"/>
<line x1="56.6" y1="291.5" x2="56.6" y2="294.2" stroke="#e6dc6a" stroke-width="0.7"/>
<line x1="59.6" y1="291.5" x2="59.6" y2="294.2" stroke="#e6dc6a" stroke-width="0.7"/>
<line x1="53.6" y1="288.8" x2="58.1" y2="288.8" stroke="#e6dc6a" stroke-width="0.7"/>
<line x1="53.6" y1="288.8" x2="53.6" y2="291.5" stroke="#e6dc6a" stroke-width="0.7"/>
<line x1="58.1" y1="288.8" x2="58.1" y2="291.5" stroke="#e6dc6a" stroke-width="0.7"/>
<line x1="62.6" y1="294.2" x2="62.6" y2="297.0" stroke="#e6dc6a" stroke-width="0.7"/>
<line x1="65.7" y1="294.2" x2="65.7" y2="297.0" stroke="#e6dc6a" stroke-width="0.7"/>
<line x1="62.6" y1="291.5" x2="65.7" y2="291.5" stroke="#e6dc6a" stroke-width="0.7"/>
<line x1="62.6" y1="291.5" x2="62.6" y2="294.2" stroke="#e6dc6a" stroke-width="0.7"/>
<line x1="65.7" y1="291.5" x2="65.7" y2="294.2" stroke="#e6dc6a" stroke-width="0.7"/>
<line x1="68.7" y1="294.2" x2="68.7" y2="297.0" stroke="#e6dc6a" stroke-width="0.7"/>
<line x1="71.7" y1="294.2" x2="71.7" y2="297.0" stroke="#e6dc6a" stroke-width="0.7"/>
<line x1="68.7" y1="291.5" x2="71.7" y2="291.5" stroke="#e6dc6a" stroke-width="0.7"/>
<line x1="68.7" y1="291.5" x2="68.7" y2="294.2" stroke="#e6dc6a" stroke-width="0.7"/>
<line x1="71.7" y1="291.5" x2="71.7" y2="294.2" stroke="#e6dc6a" stroke-width="0.7"/>
<line x1="64.2" y1="288.8" x2="70.2" y2="288.8" stroke="#e6dc6a" stroke-width="0.7"/>
<line x1="64.2" y1="288.8" x2="64.2" y2="291.5" stroke="#e6dc6a" stroke-width="0.7"/>
<line x1="70.2" y1="288.8" x2="70.2" y2="291.5" stroke="#e6dc6a" stroke-width="0.7"/>
<line x1="55.9" y1="286.0" x2="67.2" y2="286.0" stroke="#e6dc6a" stroke-width="0.7"/>
<line x1="55.9" y1="286.0" x2="55.9" y2="288.8" stroke="#e6dc6a" stroke-width="0.7"/>
<line x1="67.2" y1="286.0" x2="67.2" y2="288.8" stroke="#e6dc6a" stroke-width="0.7"/>
<line x1="74.7" y1="292.5" x2="74.7" y2="297.0" stroke="#4f80c0" stroke-width="0.7"/>
<line x1="77.7" y1="294.8" x2="77.7" y2="297.0" stroke="#4f80c0" stroke-width="0.7"/>
<line x1="80.8" y1="294.8" x2="80.8" y2="297.0" stroke="#4f80c0" stroke-width="0.7"/>
<line x1="77.7" y1="292.5" x2="80.8" y2="292.5" stroke="#4f80c0" stroke-width="0.7"/>
<line x1="77.7" y1="292.5" x2="77.7" y2="294.8" stroke="#4f80c0" stroke-width="0.7"/>
<line x1="80.8" y1="292.5" x2="80.8" y2="294.8" stroke="#4f80c0" stroke-width="0.7"/>
<line x1="74.7" y1="290.2" x2="79.2" y2="290.2" stroke="#4f80c0" stroke-width="0.7"/>
<line x1="74.7" y1="290.2" x2="74.7" y2="292.5" stroke="#4f80c0" stroke-width="0.7"/>
<line x1="79.2" y1="290.2" x2="79.2" y2="292.5" stroke="#4f80c0" stroke-width="0.7"/>
<line x1="83.8" y1="292.5" x2="83.8" y2="297.0" stroke="#4f80c0" stroke-width="0.7"/>
<line x1="86.8" y1="294.8" x2="86.8" y2="297.0" stroke="#4f80c0" stroke-width="0.7"/>
<line x1="89.8" y1="294.8" x2="89.8" y2="297.0" stroke="#4f80c0" stroke-width="0.7"/>
<line x1="86.8" y1="292.5" x2="89.8" y2="292.5" stroke="#4f80c0" stroke-width="0.7"/>
<line x1="86.8" y1="292.5" x2="86.8" y2="294.8" stroke="#4f80c0" stroke-width="0.7"/>
<line x1="89.8" y1="292.5" x2="89.8" y2="294.8" stroke="#4f80c0" stroke-width="0.7"/>
<line x1="83.8" y1="290.2" x2="88.3" y2="290.2" stroke="#4f80c0" stroke-width="0.7"/>
<line x1="83.8" y1="290.2" x2="83.8" y2="292.5" stroke="#4f80c0" stroke-width="0.7"/>
<line x1="88.3" y1="290.2" x2="88.3" y2="292.5" stroke="#4f80c0" stroke-width="0.7"/>
<line x1="77.0" y1="288.0" x2="86.0" y2="288.0" stroke="#4f80c0" stroke-width="0.7"/>
<line x1="77.0" y1="288.0" x2="77.0" y2="290.2" stroke="#4f80c0" stroke-width="0.7"/>
<line x1="86.0" y1="288.0" x2="86.0" y2="290.2" stroke="#4f80c0" stroke-width="0.7"/>
<line x1="92.8" y1="294.3" x2="92.8" y2="297.0" stroke="#5cb070" stroke-width="0.7"/>
<line x1="95.9" y1="294.3" x2="95.9" y2="297.0" stroke="#5cb070" stroke-width="0.7"/>
<line x1="92.8" y1="291.7" x2="95.9" y2="291.7" stroke="#5cb070" stroke-width="0.7"/>
<line x1="92.8" y1="291.7" x2="92.8" y2="294.3" stroke="#5cb070" stroke-width="0.7"/>
<line x1="95.9" y1="291.7" x2="95.9" y2="294.3" stroke="#5cb070" stroke-width="0.7"/>
<line x1="98.9" y1="294.3" x2="98.9" y2="297.0" stroke="#5cb070" stroke-width="0.7"/>
<line x1="101.9" y1="294.3" x2="101.9" y2="297.0" stroke="#5cb070" stroke-width="0.7"/>
<line x1="98.9" y1="291.7" x2="101.9" y2="291.7" stroke="#5cb070" stroke-width="0.7"/>
<line x1="98.9" y1="291.7" x2="98.9" y2="294.3" stroke="#5cb070" stroke-width="0.7"/>
<line x1="101.9" y1="291.7" x2="101.9" y2="294.3" stroke="#5cb070" stroke-width="0.7"/>
<line x1="94.3" y1="289.0" x2="100.4" y2="289.0" stroke="#5cb070" stroke-width="0.7"/>
<line x1="94.3" y1="289.0" x2="94.3" y2="291.7" stroke="#5cb070" stroke-width="0.7"/>
<line x1="100.4" y1="289.0" x2="100.4" y2="291.7" stroke="#5cb070" stroke-width="0.7"/>
<line x1="104.9" y1="294.3" x2="104.9" y2="297.0" stroke="#5cb070" stroke-width="0.7"/>
<line x1="107.9" y1="294.3" x2="107.9" y2="297.0" stroke="#5cb070" stroke-width="0.7"/>
<line x1="104.9" y1="291.7" x2="107.9" y2="291.7" stroke="#5cb070" stroke-width="0.7"/>
<line x1="104.9" y1="291.7" x2="104.9" y2="294.3" stroke="#5cb070" stroke-width="0.7"/>
<line x1="107.9" y1="291.7" x2="107.9" y2="294.3" stroke="#5cb070" stroke-width="0.7"/>
<line x1="111.0" y1="294.3" x2="111.0" y2="297.0" stroke="#5cb070" stroke-width="0.7"/>
<line x1="114.0" y1="297.0" x2="114.0" y2="297.0" stroke="#5cb070" stroke-width="0.7"/>
<line x1="117.0" y1="297.0" x2="117.0" y2="297.0" stroke="#5cb070" stroke-width="0.7"/>
<line x1="114.0" y1="294.3" x2="117.0" y2="294.3" stroke="#5cb070" stroke-width="0.7"/>
<line x1="114.0" y1="294.3" x2="114.0" y2="297.0" stroke="#5cb070" stroke-width="0.7"/>
<line x1="117.0" y1="294.3" x2="117.0" y2="297.0" stroke="#5cb070" stroke-width="0.7"/>
<line x1="111.0" y1="291.7" x2="115.5" y2="291.7" stroke="#5cb070" stroke-width="0.7"/>
<line x1="111.0" y1="291.7" x2="111.0" y2="294.3" stroke="#5cb070" stroke-width="0.7"/>
<line x1="115.5" y1="291.7" x2="115.5" y2="294.3" stroke="#5cb070" stroke-width="0.7"/>
<line x1="106.4" y1="289.0" x2="113.2" y2="289.0" stroke="#5cb070" stroke-width="0.7"/>
<line x1="106.4" y1="289.0" x2="106.4" y2="291.7" stroke="#5cb070" stroke-width="0.7"/>
<line x1="113.2" y1="289.0" x2="113.2" y2="291.7" stroke="#5cb070" stroke-width="0.7"/>
<line x1="97.4" y1="286.4" x2="109.8" y2="286.4" stroke="#5cb070" stroke-width="0.7"/>
<line x1="97.4" y1="286.4" x2="97.4" y2="289.0" stroke="#5cb070" stroke-width="0.7"/>
<line x1="109.8" y1="286.4" x2="109.8" y2="289.0" stroke="#5cb070" stroke-width="0.7"/>
<line x1="149.6" y1="398.1" x2="233.3" y2="366.0" stroke="#ebebeb" stroke-width="0.5"/>
<line x1="149.6" y1="393.7" x2="233.3" y2="361.6" stroke="#ebebeb" stroke-width="0.5"/>
<line x1="149.6" y1="389.2" x2="233.3" y2="357.1" stroke="#ebebeb" stroke-width="0.5"/>
<line x1="149.6" y1="384.7" x2="233.3" y2="352.6" stroke="#ebebeb" stroke-width="0.5"/>
<line x1="149.6" y1="380.3" x2="233.3" y2="348.2" stroke="#ebebeb" stroke-width="0.5"/>
<line x1="149.6" y1="375.8" x2="233.3" y2="343.7" stroke="#ebebeb" stroke-width="0.5"/>
<line x1="149.6" y1="371.3" x2="233.3" y2="339.2" stroke="#ebebeb" stroke-width="0.5"/>
<line x1="149.6" y1="366.9" x2="233.3" y2="334.8" stroke="#ebebeb" stroke-width="0.5"/>
<line x1="149.6" y1="362.4" x2="233.3" y2="330.3" stroke="#ebebeb" stroke-width="0.5"/>
<line x1="149.6" y1="358.0" x2="233.3" y2="325.9" stroke="#ebebeb" stroke-width="0.5"/>
<line x1="149.6" y1="353.5" x2="233.3" y2="321.4" stroke="#ebebeb" stroke-width="0.5"/>
<line x1="149.6" y1="349.0" x2="233.3" y2="316.9" stroke="#ebebeb" stroke-width="0.5"/>
<line x1="149.6" y1="344.6" x2="233.3" y2="312.5" stroke="#ebebeb" stroke-width="0.5"/>
<line x1="149.6" y1="340.1" x2="233.3" y2="308.0" stroke="#ebebeb" stroke-width="0.5"/>
<line x1="149.6" y1="335.6" x2="233.3" y2="303.5" stroke="#ebebeb" stroke-width="0.5"/>
<line x1="149.6" y1="331.2" x2="233.3" y2="299.1" stroke="#ebebeb" stroke-width="0.5"/>
<line x1="149.6" y1="326.7" x2="233.3" y2="294.6" stroke="#ebebeb" stroke-width="0.5"/>
<line x1="149.6" y1="322.2" x2="233.3" y2="290.1" stroke="#ebebeb" stroke-width="0.5"/>
<line x1="149.6" y1="317.8" x2="233.3" y2="285.7" stroke="#ebebeb" stroke-width="0.5"/>
<line x1="149.6" y1="313.3" x2="233.3" y2="281.2" stroke="#ebebeb" stroke-width="0.5"/>
<line x1="166.3" y1="396.2" x2="166.3" y2="306.9" stroke="#ebebeb" stroke-width="0.5"/>
<line x1="183.1" y1="389.8" x2="183.1" y2="300.5" stroke="#ebebeb" stroke-width="0.5"/>
<line x1="199.8" y1="383.3" x2="199.8" y2="294.0" stroke="#ebebeb" stroke-width="0.5"/>
<line x1="216.6" y1="376.9" x2="216.6" y2="287.6" stroke="#ebebeb" stroke-width="0.5"/>
<line x1="233.3" y1="370.5" x2="233.3" y2="281.2" stroke="#ebebeb" stroke-width="0.5"/>
<line x1="295.2" y1="407.2" x2="233.3" y2="366.0" stroke="#ebebeb" stroke-width="0.5"/>
<line x1="295.2" y1="402.8" x2="233.3" y2="361.6" stroke="#ebebeb" stroke-width="0.5"/>
<line x1="295.2" y1="398.3" x2="233.3" y2="357.1" stroke="#ebebeb" stroke-width="0.5"/>
<line x1="295.2" y1="393.8" x2="233.3" y2="352.6" stroke="#ebebeb" stroke-width="0.5"/>
<line x1="295.2" y1="389.4" x2="233.3" y2="348.2" stroke="#ebebeb" stroke-width="0.5"/>
<line x1="295.2" y1="384.9" x2="233.3" y2="343.7" stroke="#ebebeb" stroke-width="0.5"/>
<line x1="295.2" y1="380.4" x2="233.3" y2="339.2" stroke="#ebebeb" stroke-width="0.5"/>
<line x1="295.2" y1="376.0" x2="233.3" y2="334.8" stroke="#ebebeb" stroke-width="0.5"/>
<line x1="295.2" y1="371.5" x2="233.3" y2="330.3" stroke="#ebebeb" stroke-width="0.5"/>
<line x1="295.2" y1="367.1" x2="233.3" y2="325.9" stroke="#ebebeb" stroke-width="0.5"/>
<line x1="295.2" y1="362.6" x2="233.3" y2="321.4" stroke="#ebebeb" stroke-width="0.5"/>
<line x1="295.2" y1="358.1" x2="233.3" y2="316.9" stroke="#ebebeb" stroke-width="0.5"/>
<line x1="295.2" y1="353.7" x2="233.3" y2="312.5" stroke="#ebebeb" stroke-width="0.5"/>
<line x1="295.2" y1="349.2" x2="233.3" y2="308.0" stroke="#ebebeb" stroke-width="0.5"/>
<line x1="295.2" y1="344.7" x2="233.3" y2="303.5" stroke="#ebebeb" stroke-width="0.5"/>
<line x1="295.2" y1="340.3" x2="233.3" y2="299.1" stroke="#ebebeb" stroke-width="0.5"/>
<line x1="295.2" y1="335.8" x2="233.3" y2="294.6" stroke="#ebebeb" stroke-width="0.5"/>
<line x1="295.2" y1="331.3" x2="233.3" y2="290.1" stroke="#ebebeb" stroke-width="0.5"/>
<line x1="295.2" y1="326.9" x2="233.3" y2="285.7" stroke="#ebebeb" stroke-width="0.5"/>
<line x1="295.2" y1="322.4" x2="233.3" y2="281.2" stroke="#ebebeb" stroke-width="0.5"/>
<line x1="295.2" y1="411.7" x2="295.2" y2="322.4" stroke="#ebebeb" stroke-width="0.5"/>
<line x1="282.8" y1="403.5" x2="282.8" y2="314.2" stroke="#ebebeb" stroke-width="0.5"/>
<line x1="270.4" y1="395.2" x2="270.4" y2="305.9" stroke="#ebebeb" stroke-width="0.5"/>
<line x1="258.1" y1="387.0" x2="258.1" y2="297.7" stroke="#ebebeb" stroke-width="0.5"/>
<line x1="245.7" y1="378.7" x2="245.7" y2="289.4" stroke="#ebebeb" stroke-width="0.5"/>
<line x1="199.1" y1="435.6" x2="282.8" y2="403.5" stroke="#ebebeb" stroke-width="0.5"/>
<line x1="186.7" y1="427.3" x2="270.4" y2="395.2" stroke="#ebebeb" stroke-width="0.5"/>
<line x1="174.4" y1="419.1" x2="258.1" y2="387.0" stroke="#ebebeb" stroke-width="0.5"/>
<line x1="162.0" y1="410.8" x2="245.7" y2="378.7" stroke="#ebebeb" stroke-width="0.5"/>
<line x1="149.6" y1="402.6" x2="233.3" y2="370.5" stroke="#ebebeb" stroke-width="0.5"/>
<line x1="228.2" y1="437.4" x2="166.3" y2="396.2" stroke="#ebebeb" stroke-width="0.5"/>
<line x1="245.0" y1="431.0" x2="183.1" y2="389.8" stroke="#ebebeb" stroke-width="0.5"/>
<line x1="261.7" y1="424.5" x2="199.8" y2="383.3" stroke="#ebebeb" stroke-width="0.5"/>
<line x1="278.5" y1="418.1" x2="216.6" y2="376.9" stroke="#ebebeb" stroke-width="0.5"/>
<line x1="295.2" y1="411.7" x2="233.3" y2="370.5" stroke="#ebebeb" stroke-width="0.5"/>
<line x1="149.6" y1="402.6" x2="149.6" y2="313.3" stroke="#111" stroke-width="0.9"/>
<polyline points="149.6,402.6 211.5,443.8 295.2,411.7" fill="none" stroke="#111" stroke-width="0.9"/>
<line x1="149.6" y1="402.6" x2="150.9" y2="402.6" stroke="#111" stroke-width="0.6"/>
<text x="147.0" y="404.4" font-size="5.2" text-anchor="end" font-family="Liberation Sans, sans-serif" stroke="#000" stroke-width="0.22">0</text>
<line x1="149.6" y1="393.7" x2="150.9" y2="393.7" stroke="#111" stroke-width="0.6"/>
<text x="147.0" y="395.5" font-size="5.2" text-anchor="end" font-family="Liberation Sans, sans-serif" stroke="#000" stroke-width="0.22">0.1</text>
<line x1="149.6" y1="384.7" x2="150.9" y2="384.7" stroke="#111" stroke-width="0.6"/>
<text x="147.0" y="386.5" font-size="5.2" text-anchor="end" font-family="Liberation Sans, sans-serif" stroke="#000" stroke-width="0.22">0.2</text>
<line x1="149.6" y1="375.8" x2="150.9" y2="375.8" stroke="#111" stroke-width="0.6"/>
<text x="147.0" y="377.6" font-size="5.2" text-anchor="end" font-family="Liberation Sans, sans-serif" stroke="#000" stroke-width="0.22">0.3</text>
<line x1="149.6" y1="366.9" x2="150.9" y2="366.9" stroke="#111" stroke-width="0.6"/>
<text x="147.0" y="368.7" font-size="5.2" text-anchor="end" font-family="Liberation Sans, sans-serif" stroke="#000" stroke-width="0.22">0.4</text>
<line x1="149.6" y1="358.0" x2="150.9" y2="358.0" stroke="#111" stroke-width="0.6"/>
<text x="147.0" y="359.8" font-size="5.2" text-anchor="end" font-family="Liberation Sans, sans-serif" stroke="#000" stroke-width="0.22">0.5</text>
<line x1="149.6" y1="349.0" x2="150.9" y2="349.0" stroke="#111" stroke-width="0.6"/>
<text x="147.0" y="350.8" font-size="5.2" text-anchor="end" font-family="Liberation Sans, sans-serif" stroke="#000" stroke-width="0.22">0.6</text>
<line x1="149.6" y1="340.1" x2="150.9" y2="340.1" stroke="#111" stroke-width="0.6"/>
<text x="147.0" y="341.9" font-size="5.2" text-anchor="end" font-family="Liberation Sans, sans-serif" stroke="#000" stroke-width="0.22">0.7</text>
<line x1="149.6" y1="331.2" x2="150.9" y2="331.2" stroke="#111" stroke-width="0.6"/>
<text x="147.0" y="333.0" font-size="5.2" text-anchor="end" font-family="Liberation Sans, sans-serif" stroke="#000" stroke-width="0.22">0.8</text>
<line x1="149.6" y1="322.2" x2="150.9" y2="322.2" stroke="#111" stroke-width="0.6"/>
<text x="147.0" y="324.0" font-size="5.2" text-anchor="end" font-family="Liberation Sans, sans-serif" stroke="#000" stroke-width="0.22">0.9</text>
<line x1="149.6" y1="313.3" x2="150.9" y2="313.3" stroke="#111" stroke-width="0.6"/>
<text x="147.0" y="315.1" font-size="5.2" text-anchor="end" font-family="Liberation Sans, sans-serif" stroke="#000" stroke-width="0.22">1</text>
<line x1="211.5" y1="443.8" x2="212.4" y2="442.6" stroke="#111" stroke-width="0.6"/>
<text x="207.0" y="450.0" font-size="5.2" text-anchor="middle" font-family="Liberation Sans, sans-serif" stroke="#000" stroke-width="0.22">0</text>
<line x1="199.1" y1="435.6" x2="200.0" y2="434.4" stroke="#111" stroke-width="0.6"/>
<text x="194.6" y="441.8" font-size="5.2" text-anchor="middle" font-family="Liberation Sans, sans-serif" stroke="#000" stroke-width="0.22">0.2</text>
<line x1="186.7" y1="427.3" x2="187.6" y2="426.1" stroke="#111" stroke-width="0.6"/>
<text x="182.2" y="433.5" font-size="5.2" text-anchor="middle" font-family="Liberation Sans, sans-serif" stroke="#000" stroke-width="0.22">0.4</text>
<line x1="174.4" y1="419.1" x2="175.3" y2="417.9" stroke="#111" stroke-width="0.6"/>
<text x="169.9" y="425.3" font-size="5.2" text-anchor="middle" font-family="Liberation Sans, sans-serif" stroke="#000" stroke-width="0.22">0.6</text>
<line x1="162.0" y1="410.8" x2="162.9" y2="409.6" stroke="#111" stroke-width="0.6"/>
<text x="157.5" y="417.0" font-size="5.2" text-anchor="middle" font-family="Liberation Sans, sans-serif" stroke="#000" stroke-width="0.22">0.8</text>
<line x1="149.6" y1="402.6" x2="150.5" y2="401.4" stroke="#111" stroke-width="0.6"/>
<text x="145.1" y="408.8" font-size="5.2" text-anchor="middle" font-family="Liberation Sans, sans-serif" stroke="#000" stroke-width="0.22">1</text>
<line x1="211.5" y1="443.8" x2="211.0" y2="442.5" stroke="#111" stroke-width="0.6"/>
<text x="216.3" y="449.6" font-size="5.2" text-anchor="middle" font-family="Liberation Sans, sans-serif" stroke="#000" stroke-width="0.22">0</text>
<line x1="228.2" y1="437.4" x2="227.7" y2="436.1" stroke="#111" stroke-width="0.6"/>
<text x="233.0" y="443.2" font-size="5.2" text-anchor="middle" font-family="Liberation Sans, sans-serif" stroke="#000" stroke-width="0.22">0.2</text>
<line x1="245.0" y1="431.0" x2="244.5" y2="429.7" stroke="#111" stroke-width="0.6"/>
<text x="249.8" y="436.8" font-size="5.2" text-anchor="middle" font-family="Liberation Sans, sans-serif" stroke="#000" stroke-width="0.22">0.4</text>
<line x1="261.7" y1="424.5" x2="261.2" y2="423.2" stroke="#111" stroke-width="0.6"/>
<text x="266.5" y="430.3" font-size="5.2" text-anchor="middle" font-family="Liberation Sans, sans-serif" stroke="#000" stroke-width="0.22">0.6</text>
<line x1="278.5" y1="418.1" x2="278.0" y2="416.8" stroke="#111" stroke-width="0.6"/>
<text x="283.3" y="423.9" font-size="5.2" text-anchor="middle" font-family="Liberation Sans, sans-serif" stroke="#000" stroke-width="0.22">0.8</text>
<line x1="295.2" y1="411.7" x2="294.7" y2="410.4" stroke="#111" stroke-width="0.6"/>
<text x="300.0" y="417.5" font-size="5.2" text-anchor="middle" font-family="Liberation Sans, sans-serif" stroke="#000" stroke-width="0.22">1</text>
<text x="164.2" y="435.4" font-size="6.4" text-anchor="middle" font-family="Liberation Sans, sans-serif" stroke="#000" stroke-width="0.22">PP</text>
<text x="267.8" y="441" font-size="6.4" text-anchor="middle" font-family="Liberation Sans, sans-serif" stroke="#000" stroke-width="0.22">DP</text>
<text x="0" y="0" font-size="6.2" text-anchor="middle" font-family="Liberation Sans, sans-serif" transform="translate(135 356.5) rotate(-90)" stroke="#000" stroke-width="0.22">+85</text>
<circle cx="233.7" cy="284.4" r="2.9" fill="#d0101e" stroke="#5a0008" stroke-width="0.6"/>
<circle cx="244.2" cy="335.4" r="2.9" fill="#d0101e" stroke="#5a0008" stroke-width="0.6"/>
<circle cx="229.2" cy="375.8" r="2.9" fill="#d0101e" stroke="#5a0008" stroke-width="0.6"/>
<circle cx="229.8" cy="379.2" r="2.9" fill="#d0101e" stroke="#5a0008" stroke-width="0.6"/>
<path d="M204.6 324.2H210.6L207.6 329.4Z" fill="#f2e818" stroke="#444" stroke-width="0.6"/>
<path d="M178.0 338.2H184.0L181.0 343.4Z" fill="#f2e818" stroke="#444" stroke-width="0.6"/>
<path d="M194.0 342.4H200.0L197.0 347.6Z" fill="#f2e818" stroke="#444" stroke-width="0.6"/>
<path d="M176.0 348.9H182.0L179.0 354.1Z" fill="#f2e818" stroke="#444" stroke-width="0.6"/>
<path d="M180.6 351.8H186.6L183.6 357.0Z" fill="#f2e818" stroke="#444" stroke-width="0.6"/>
<path d="M185.8 350.9H191.8L188.8 356.1Z" fill="#f2e818" stroke="#444" stroke-width="0.6"/>
<path d="M194.8 350.9H200.8L197.8 356.1Z" fill="#f2e818" stroke="#444" stroke-width="0.6"/>
<path d="M185.6 372.0L188.9 375.3L185.6 378.6L182.3 375.3Z" fill="#1f5fa6" stroke="#0c2a50" stroke-width="0.6"/>
<path d="M183.6 374.5L186.9 377.8L183.6 381.1L180.3 377.8Z" fill="#1f5fa6" stroke="#0c2a50" stroke-width="0.6"/>
<path d="M193.7 372.8L197.0 376.1L193.7 379.4L190.4 376.1Z" fill="#1f5fa6" stroke="#0c2a50" stroke-width="0.6"/>
<path d="M187.5 382.3L190.8 385.6L187.5 388.9L184.2 385.6Z" fill="#1f5fa6" stroke="#0c2a50" stroke-width="0.6"/>
<path d="M175.8 387.9L179.1 391.2L175.8 394.5L172.5 391.2Z" fill="#1f5fa6" stroke="#0c2a50" stroke-width="0.6"/>
<path d="M191.0 399.0L194.3 402.3L191.0 405.6L187.7 402.3Z" fill="#1f5fa6" stroke="#0c2a50" stroke-width="0.6"/>
<rect x="214.7" y="380.9" width="5.2" height="5.2" fill="#2e9a46" stroke="#0e3a18" stroke-width="0.6"/>
<rect x="205.4" y="392.2" width="5.2" height="5.2" fill="#2e9a46" stroke="#0e3a18" stroke-width="0.6"/>
<rect x="205.1" y="396.6" width="5.2" height="5.2" fill="#2e9a46" stroke="#0e3a18" stroke-width="0.6"/>
<rect x="204.1" y="401.4" width="5.2" height="5.2" fill="#2e9a46" stroke="#0e3a18" stroke-width="0.6"/>
<rect x="216.6" y="407.2" width="5.2" height="5.2" fill="#2e9a46" stroke="#0e3a18" stroke-width="0.6"/>
<rect x="232.0" y="412.4" width="5.2" height="5.2" fill="#2e9a46" stroke="#0e3a18" stroke-width="0.6"/>
<rect x="232.0" y="418.7" width="5.2" height="5.2" fill="#2e9a46" stroke="#0e3a18" stroke-width="0.6"/>
<rect x="220.4" y="422.0" width="5.2" height="5.2" fill="#2e9a46" stroke="#0e3a18" stroke-width="0.6"/>
<rect x="221.4" y="425.1" width="5.2" height="5.2" fill="#2e9a46" stroke="#0e3a18" stroke-width="0.6"/>
<text x="238.2" y="286.2" font-size="4.6" font-family="Liberation Sans, sans-serif" fill="#333" stroke="#333" stroke-width="0.22">1</text>
<text x="248.8" y="337.2" font-size="4.6" font-family="Liberation Sans, sans-serif" fill="#333" stroke="#333" stroke-width="0.22">3</text>
<text x="233.8" y="376.7" font-size="4.6" font-family="Liberation Sans, sans-serif" fill="#333" stroke="#333" stroke-width="0.22">2</text>
<text x="233.8" y="381.6" font-size="4.6" font-family="Liberation Sans, sans-serif" fill="#333" stroke="#333" stroke-width="0.22">4</text>
<text x="211.3" y="328.4" font-size="4.6" font-family="Liberation Sans, sans-serif" fill="#333" stroke="#333" stroke-width="0.22">6</text>
<text x="184.4" y="342.2" font-size="4.6" font-family="Liberation Sans, sans-serif" fill="#333" stroke="#333" stroke-width="0.22">10</text>
<text x="200.8" y="346.6" font-size="4.6" font-family="Liberation Sans, sans-serif" fill="#333" stroke="#333" stroke-width="0.22">5</text>
<text x="180.5" y="349.3" font-size="4.6" font-family="Liberation Sans, sans-serif" fill="#333" stroke="#333" stroke-width="0.22">7</text>
<text x="182.5" y="358.5" font-size="4.6" font-family="Liberation Sans, sans-serif" fill="#333" stroke="#333" stroke-width="0.22">11</text>
<text x="190.8" y="355.2" font-size="4.6" font-family="Liberation Sans, sans-serif" fill="#333" stroke="#333" stroke-width="0.22">9</text>
<text x="201.6" y="355.2" font-size="4.6" font-family="Liberation Sans, sans-serif" fill="#333" stroke="#333" stroke-width="0.22">8</text>
<text x="188.8" y="372.6" font-size="4.6" font-family="Liberation Sans, sans-serif" fill="#333" stroke="#333" stroke-width="0.22">16</text>
<text x="186.4" y="381.5" font-size="4.6" font-family="Liberation Sans, sans-serif" fill="#333" stroke="#333" stroke-width="0.22">14</text>
<text x="197.3" y="378" font-size="4.6" font-family="Liberation Sans, sans-serif" fill="#333" stroke="#333" stroke-width="0.22">17</text>
<text x="191.3" y="387.4" font-size="4.6" font-family="Liberation Sans, sans-serif" fill="#333" stroke="#333" stroke-width="0.22">13</text>
<text x="179.3" y="393" font-size="4.6" font-family="Liberation Sans, sans-serif" fill="#333" stroke="#333" stroke-width="0.22">15</text>
<text x="194.6" y="404.2" font-size="4.6" font-family="Liberation Sans, sans-serif" fill="#333" stroke="#333" stroke-width="0.22">12</text>
<text x="220.5" y="385.4" font-size="4.6" font-family="Liberation Sans, sans-serif" fill="#333" stroke="#333" stroke-width="0.22">19</text>
<text x="211.5" y="396.8" font-size="4.6" font-family="Liberation Sans, sans-serif" fill="#333" stroke="#333" stroke-width="0.22">24</text>
<text x="211.2" y="401" font-size="4.6" font-family="Liberation Sans, sans-serif" fill="#333" stroke="#333" stroke-width="0.22">23</text>
<text x="210.3" y="405.8" font-size="4.6" font-family="Liberation Sans, sans-serif" fill="#333" stroke="#333" stroke-width="0.22">21</text>
<text x="223" y="411.7" font-size="4.6" font-family="Liberation Sans, sans-serif" fill="#333" stroke="#333" stroke-width="0.22">22</text>
<text x="238.4" y="417" font-size="4.6" font-family="Liberation Sans, sans-serif" fill="#333" stroke="#333" stroke-width="0.22">26</text>
<text x="238.4" y="423.1" font-size="4.6" font-family="Liberation Sans, sans-serif" fill="#333" stroke="#333" stroke-width="0.22">20</text>
<text x="226.7" y="424.5" font-size="4.6" font-family="Liberation Sans, sans-serif" fill="#333" stroke="#333" stroke-width="0.22">18</text>
<text x="227.6" y="429.6" font-size="4.6" font-family="Liberation Sans, sans-serif" fill="#333" stroke="#333" stroke-width="0.22">25</text>
<text x="335.9" y="259.5" font-size="11.8" font-weight="bold" font-family="Liberation Sans, sans-serif">C</text>
<line x1="355.7" y1="313.4" x2="355.7" y2="344.3" stroke="#111" stroke-width="0.9"/>
<line x1="355.7" y1="350.7" x2="355.7" y2="429" stroke="#111" stroke-width="0.9"/>
<line x1="353.09999999999997" y1="313.4" x2="355.7" y2="313.4" stroke="#111" stroke-width="0.8"/>
<text x="352.3" y="315.1" font-size="4.9" text-anchor="end" font-family="Liberation Sans, sans-serif" stroke="#000" stroke-width="0.22">10</text>
<line x1="353.09999999999997" y1="328.8" x2="355.7" y2="328.8" stroke="#111" stroke-width="0.8"/>
<text x="352.3" y="330.5" font-size="4.9" text-anchor="end" font-family="Liberation Sans, sans-serif" stroke="#000" stroke-width="0.22">8</text>
<line x1="353.09999999999997" y1="344.3" x2="355.7" y2="344.3" stroke="#111" stroke-width="0.8"/>
<text x="352.3" y="346.0" font-size="4.9" text-anchor="end" font-family="Liberation Sans, sans-serif" stroke="#000" stroke-width="0.22">6</text>
<line x1="353.09999999999997" y1="350.7" x2="355.7" y2="350.7" stroke="#111" stroke-width="0.8"/>
<text x="352.3" y="352.4" font-size="4.9" text-anchor="end" font-family="Liberation Sans, sans-serif" stroke="#000" stroke-width="0.22">3</text>
<line x1="353.09999999999997" y1="377" x2="355.7" y2="377" stroke="#111" stroke-width="0.8"/>
<text x="352.3" y="378.7" font-size="4.9" text-anchor="end" font-family="Liberation Sans, sans-serif" stroke="#000" stroke-width="0.22">2</text>
<line x1="353.09999999999997" y1="403" x2="355.7" y2="403" stroke="#111" stroke-width="0.8"/>
<text x="352.3" y="404.7" font-size="4.9" text-anchor="end" font-family="Liberation Sans, sans-serif" stroke="#000" stroke-width="0.22">1</text>
<line x1="353.09999999999997" y1="429" x2="355.7" y2="429" stroke="#111" stroke-width="0.8"/>
<text x="352.3" y="430.7" font-size="4.9" text-anchor="end" font-family="Liberation Sans, sans-serif" stroke="#000" stroke-width="0.22">0</text>
<line x1="355.7" y1="344.3" x2="357.5" y2="344.3" stroke="#111" stroke-width="0.8"/>
<line x1="355.7" y1="350.7" x2="357.5" y2="350.7" stroke="#111" stroke-width="0.8"/>
<line x1="355.7" y1="429" x2="502" y2="429" stroke="#111" stroke-width="0.9"/>
<text x="0" y="0" font-size="5.5" text-anchor="middle" font-family="Liberation Sans, sans-serif" transform="translate(340.5 371.2) rotate(-90)" stroke="#000" stroke-width="0.22">Relative ERG mRNA expression</text>
<polyline points="392,311.4 392,304.4 467.6,304.4 467.6,337" fill="none" stroke="#333" stroke-width="0.7"/>
<text x="430.8" y="299.8" font-size="5" text-anchor="middle" font-family="Liberation Sans, sans-serif" stroke="#000" stroke-width="0.22">0.043</text>
<line x1="368.5" y1="396.5" x2="416.5" y2="396.5" stroke="#333" stroke-width="1"/>
<line x1="441.2" y1="420" x2="489.7" y2="420" stroke="#333" stroke-width="1"/>
<circle cx="392" cy="329.7" r="2.5" fill="#cf1020" stroke="#333" stroke-width="0.5"/>
<circle cx="392" cy="360.9" r="2.5" fill="#cf1020" stroke="#333" stroke-width="0.5"/>
<circle cx="384.1" cy="389.8" r="2.5" fill="#f0e23a" stroke="#333" stroke-width="0.5"/>
<circle cx="400.2" cy="387.8" r="2.5" fill="#1f5fa8" stroke="#333" stroke-width="0.5"/>
<circle cx="392" cy="395.3" r="2.5" fill="#f0e23a" stroke="#333" stroke-width="0.5"/>
<circle cx="384.1" cy="398.2" r="2.5" fill="#cf1020" stroke="#333" stroke-width="0.5"/>
<circle cx="400.2" cy="403" r="2.5" fill="#cf1020" stroke="#333" stroke-width="0.5"/>
<circle cx="392" cy="405.4" r="2.5" fill="#f0e23a" stroke="#333" stroke-width="0.5"/>
<circle cx="380" cy="413.1" r="2.5" fill="#1f5fa8" stroke="#333" stroke-width="0.5"/>
<circle cx="388.2" cy="416.7" r="2.5" fill="#1f5fa8" stroke="#333" stroke-width="0.5"/>
<circle cx="396.1" cy="417.4" r="2.5" fill="#f0e23a" stroke="#333" stroke-width="0.5"/>
<circle cx="404" cy="414.5" r="2.5" fill="#f0e23a" stroke="#333" stroke-width="0.5"/>
<circle cx="375.7" cy="420.5" r="2.5" fill="#f0e23a" stroke="#333" stroke-width="0.5"/>
<circle cx="384.1" cy="422.2" r="2.5" fill="#1f5fa8" stroke="#333" stroke-width="0.5"/>
<circle cx="408.1" cy="421.7" r="2.5" fill="#f0e23a" stroke="#333" stroke-width="0.5"/>
<circle cx="400.2" cy="423.9" r="2.5" fill="#1f5fa8" stroke="#333" stroke-width="0.5"/>
<circle cx="392" cy="427.5" r="2.5" fill="#1f5fa8" stroke="#333" stroke-width="0.5"/>
<rect x="451.2" y="409.6" width="5" height="5" fill="#2e9a46" stroke="#123" stroke-width="0.5"/>
<rect x="462.7" y="407.0" width="5" height="5" fill="#2e9a46" stroke="#123" stroke-width="0.5"/>
<rect x="458.8" y="413.0" width="5" height="5" fill="#2e9a46" stroke="#123" stroke-width="0.5"/>
<rect x="475.2" y="411.8" width="5" height="5" fill="#2e9a46" stroke="#123" stroke-width="0.5"/>
<rect x="467.3" y="416.6" width="5" height="5" fill="#2e9a46" stroke="#123" stroke-width="0.5"/>
<rect x="475.2" y="422.1" width="5" height="5" fill="#2e9a46" stroke="#123" stroke-width="0.5"/>
<rect x="451.2" y="425.0" width="5" height="5" fill="#2e9a46" stroke="#123" stroke-width="0.5"/>
<rect x="458.8" y="426.2" width="5" height="5" fill="#2e9a46" stroke="#123" stroke-width="0.5"/>
<rect x="467.3" y="425.0" width="5" height="5" fill="#2e9a46" stroke="#123" stroke-width="0.5"/>
<text x="392" y="436.8" font-size="5.5" text-anchor="middle" font-family="Liberation Sans, sans-serif" stroke="#000" stroke-width="0.22">Enrichment</text>
<text x="465.5" y="436.8" font-size="5.5" text-anchor="middle" font-family="Liberation Sans, sans-serif" stroke="#000" stroke-width="0.22">No Enrichment</text>
<text x="426.8" y="449" font-size="5.7" text-anchor="middle" font-family="Liberation Sans, sans-serif" textLength="160.5" lengthAdjust="spacingAndGlyphs" stroke="#000" stroke-width="0.22">H3K9/14Ac enrichment at ERG promoters and +85 enhancer</text>
<text x="0.6" y="471.7" font-size="11.9" font-weight="bold" font-family="Liberation Sans, sans-serif">D</text>
<text x="17" y="491.6" font-size="5.8" font-family="Liberation Sans, sans-serif" stroke="#000" stroke-width="0.22">Hs Gene</text>
<text x="17" y="515.6" font-size="5.8" font-family="Liberation Sans, sans-serif" stroke="#000" stroke-width="0.22">Hs ERG2</text>
<text x="17" y="537.6" font-size="5.8" font-family="Liberation Sans, sans-serif" stroke="#000" stroke-width="0.22">Hs ERG3</text>
<text x="17.5" y="501.3" font-size="4.6" font-family="Liberation Sans, sans-serif" stroke="#000" stroke-width="0.22">DP</text>
<rect x="26.3" y="496.8" width="26.3" height="5.5" rx="0.3" fill="#fff" stroke="#4a4a4a" stroke-width="0.65"/><text x="39.5" y="501.2" font-size="4.6" text-anchor="middle" font-family="Liberation Sans, sans-serif" stroke="#000" stroke-width="0.22">1, 2, 3, 4</text>
<text x="54.6" y="501.3" font-size="4.6" font-family="Liberation Sans, sans-serif" stroke="#000" stroke-width="0.22">PP</text>
<rect x="61.8" y="496.8" width="12.5" height="5.5" rx="0.3" fill="#fff" stroke="#4a4a4a" stroke-width="0.65"/><text x="68.0" y="501.2" font-size="4.6" text-anchor="middle" font-family="Liberation Sans, sans-serif" stroke="#000" stroke-width="0.22">5</text>
<text x="76.0" y="501.3" font-size="4.5" font-family="Liberation Sans, sans-serif" textLength="7.6" lengthAdjust="spacingAndGlyphs" stroke="#000" stroke-width="0.22">+85</text>
<rect x="84.2" y="496" width="1.7" height="7" fill="#111"/>
<rect x="87.4" y="496.8" width="11.3" height="5.5" rx="0.3" fill="#f4f4f4" stroke="#4a4a4a" stroke-width="0.65"/><text x="93.1" y="501.2" font-size="4.6" text-anchor="middle" font-family="Liberation Sans, sans-serif" stroke="#000" stroke-width="0.22">7</text>
<rect x="100.7" y="496.8" width="11.5" height="5.5" rx="0.3" fill="#cfcfcf" stroke="#4a4a4a" stroke-width="0.65"/><text x="106.5" y="501.2" font-size="4.6" text-anchor="middle" font-family="Liberation Sans, sans-serif" stroke="#000" stroke-width="0.22">8</text>
<rect x="119.6" y="496.8" width="26.5" height="5.5" rx="0.3" fill="#cfcfcf" stroke="#4a4a4a" stroke-width="0.65"/><text x="132.8" y="501.2" font-size="4.6" text-anchor="middle" font-family="Liberation Sans, sans-serif" stroke="#000" stroke-width="0.22">9,10</text>
<rect x="151.3" y="496.8" width="8.9" height="5.5" rx="0.3" fill="#cfcfcf" stroke="#4a4a4a" stroke-width="0.65"/><text x="155.8" y="501.2" font-size="4.6" text-anchor="middle" font-family="Liberation Sans, sans-serif" stroke="#000" stroke-width="0.22">11</text>
<rect x="161.4" y="496.8" width="9.3" height="5.5" rx="0.3" fill="#cfcfcf" stroke="#4a4a4a" stroke-width="0.65"/><text x="166.1" y="501.2" font-size="4.6" text-anchor="middle" font-family="Liberation Sans, sans-serif" stroke="#000" stroke-width="0.22">12</text>
<rect x="172.1" y="496.8" width="8.7" height="5.5" rx="0.3" fill="#cfcfcf" stroke="#4a4a4a" stroke-width="0.65"/><text x="176.4" y="501.2" font-size="4.6" text-anchor="middle" font-family="Liberation Sans, sans-serif" stroke="#000" stroke-width="0.22">13</text>
<rect x="183.1" y="496.8" width="15.9" height="5.5" rx="0.3" fill="#cfcfcf" stroke="#4a4a4a" stroke-width="0.65"/><text x="191.1" y="501.2" font-size="4.6" text-anchor="middle" font-family="Liberation Sans, sans-serif" stroke="#000" stroke-width="0.22">14,15</text>
<rect x="203.3" y="496.8" width="33.2" height="5.5" rx="0.3" fill="#cfcfcf" stroke="#4a4a4a" stroke-width="0.65"/><text x="219.9" y="501.2" font-size="4.6" text-anchor="middle" font-family="Liberation Sans, sans-serif" stroke="#000" stroke-width="0.22">16</text>
<rect x="236.5" y="496.8" width="5.2" height="5.5" rx="0.3" fill="#fff" stroke="#4a4a4a" stroke-width="0.65"/>
<rect x="243.2" y="496.8" width="3.5" height="5.5" rx="0.3" fill="#fff" stroke="#4a4a4a" stroke-width="0.65"/>
<text x="17.5" y="524.5" font-size="4.6" font-family="Liberation Sans, sans-serif" stroke="#000" stroke-width="0.22">DP</text>
<rect x="26.3" y="519.2" width="27.2" height="7.1" rx="0.3" fill="#fff" stroke="#4a4a4a" stroke-width="0.65"/>
<line x1="54.5" y1="522.8" x2="100" y2="522.8" stroke="#333" stroke-width="0.6" stroke-dasharray="2 1.5"/>
<rect x="100.6" y="519.2" width="11.5" height="7.1" rx="0.3" fill="#cfcfcf" stroke="#4a4a4a" stroke-width="0.65"/>
<line x1="112.1" y1="522.8" x2="118.8" y2="522.8" stroke="#333" stroke-width="0.6"/>
<rect x="118.8" y="519.2" width="25.9" height="7.1" rx="0.3" fill="#cfcfcf" stroke="#4a4a4a" stroke-width="0.65"/>
<line x1="144.7" y1="522.8" x2="151.3" y2="522.8" stroke="#333" stroke-width="0.6"/>
<rect x="151.3" y="519.2" width="9.3" height="7.1" rx="0.3" fill="#cfcfcf" stroke="#4a4a4a" stroke-width="0.65"/>
<line x1="161" y1="522.8" x2="172" y2="522.8" stroke="#333" stroke-width="0.6" stroke-dasharray="2 1.5"/>
<rect x="172.1" y="519.2" width="8.7" height="7.1" rx="0.3" fill="#cfcfcf" stroke="#4a4a4a" stroke-width="0.65"/>
<line x1="180.8" y1="522.8" x2="183.6" y2="522.8" stroke="#333" stroke-width="0.6"/>
<rect x="183.6" y="519.2" width="15.4" height="7.1" rx="0.3" fill="#cfcfcf" stroke="#4a4a4a" stroke-width="0.65"/>
<line x1="199" y1="522.8" x2="203.3" y2="522.8" stroke="#333" stroke-width="0.6"/>
<rect x="203.3" y="519.2" width="33.2" height="7.1" rx="0.3" fill="#cfcfcf" stroke="#4a4a4a" stroke-width="0.65"/>
<rect x="236.5" y="519.2" width="5.2" height="7.1" rx="0.3" fill="#fff" stroke="#4a4a4a" stroke-width="0.65"/>
<line x1="241.7" y1="522.8" x2="243.2" y2="522.8" stroke="#333" stroke-width="0.6"/>
<rect x="243.2" y="519.2" width="3.5" height="7.1" rx="0.3" fill="#fff" stroke="#4a4a4a" stroke-width="0.65"/>
<text x="55.4" y="548" font-size="4.6" font-family="Liberation Sans, sans-serif" stroke="#000" stroke-width="0.22">PP</text>
<rect x="62.5" y="542.6" width="12.5" height="7.2" rx="0.3" fill="#fff" stroke="#4a4a4a" stroke-width="0.65"/>
<line x1="76" y1="546.2" x2="100" y2="546.2" stroke="#333" stroke-width="0.6" stroke-dasharray="2 1.5"/>
<rect x="100.6" y="542.6" width="11.5" height="7.2" rx="0.3" fill="#cfcfcf" stroke="#4a4a4a" stroke-width="0.65"/>
<line x1="112.1" y1="546.2" x2="118.8" y2="546.2" stroke="#333" stroke-width="0.6" stroke-dasharray="2 1.5"/>
<rect x="118.8" y="542.6" width="25.9" height="7.2" rx="0.3" fill="#cfcfcf" stroke="#4a4a4a" stroke-width="0.65"/>
<line x1="144.7" y1="546.2" x2="151.3" y2="546.2" stroke="#333" stroke-width="0.6"/>
<rect x="151.3" y="542.6" width="9.3" height="7.2" rx="0.3" fill="#cfcfcf" stroke="#4a4a4a" stroke-width="0.65"/>
<rect x="161.4" y="542.6" width="9.3" height="7.2" rx="0.3" fill="#cfcfcf" stroke="#4a4a4a" stroke-width="0.65"/>
<rect x="172.1" y="542.6" width="8.7" height="7.2" rx="0.3" fill="#cfcfcf" stroke="#4a4a4a" stroke-width="0.65"/>
<line x1="180.8" y1="546.2" x2="183.6" y2="546.2" stroke="#333" stroke-width="0.6"/>
<rect x="183.6" y="542.6" width="15.4" height="7.2" rx="0.3" fill="#cfcfcf" stroke="#4a4a4a" stroke-width="0.65"/>
<line x1="199" y1="546.2" x2="203.3" y2="546.2" stroke="#333" stroke-width="0.6"/>
<rect x="203.3" y="542.6" width="33.2" height="7.2" rx="0.3" fill="#cfcfcf" stroke="#4a4a4a" stroke-width="0.65"/>
<rect x="236.5" y="542.6" width="5.2" height="7.2" rx="0.3" fill="#fff" stroke="#4a4a4a" stroke-width="0.65"/>
<line x1="241.7" y1="546.2" x2="243.2" y2="546.2" stroke="#333" stroke-width="0.6"/>
<rect x="243.2" y="542.6" width="3.5" height="7.2" rx="0.3" fill="#fff" stroke="#4a4a4a" stroke-width="0.65"/>
<text x="268.2" y="471.6" font-size="12" font-weight="bold" font-family="Liberation Sans, sans-serif">E</text>
<line x1="291.8" y1="479.6" x2="291.8" y2="521.5" stroke="#111" stroke-width="0.9"/>
<line x1="291.8" y1="526.2" x2="291.8" y2="604.4" stroke="#111" stroke-width="0.9"/>
<line x1="289.6" y1="479.6" x2="291.8" y2="479.6" stroke="#111" stroke-width="0.7"/>
<text x="288.8" y="481.2" font-size="4.6" text-anchor="end" font-family="Liberation Sans, sans-serif" stroke="#000" stroke-width="0.22">10</text>
<line x1="289.6" y1="490.1" x2="291.8" y2="490.1" stroke="#111" stroke-width="0.7"/>
<text x="288.8" y="491.7" font-size="4.6" text-anchor="end" font-family="Liberation Sans, sans-serif" stroke="#000" stroke-width="0.22">9</text>
<line x1="289.6" y1="500.6" x2="291.8" y2="500.6" stroke="#111" stroke-width="0.7"/>
<text x="288.8" y="502.2" font-size="4.6" text-anchor="end" font-family="Liberation Sans, sans-serif" stroke="#000" stroke-width="0.22">8</text>
<line x1="289.6" y1="511.0" x2="291.8" y2="511.0" stroke="#111" stroke-width="0.7"/>
<text x="288.8" y="512.6" font-size="4.6" text-anchor="end" font-family="Liberation Sans, sans-serif" stroke="#000" stroke-width="0.22">7</text>
<line x1="289.6" y1="521.5" x2="291.8" y2="521.5" stroke="#111" stroke-width="0.7"/>
<text x="288.8" y="523.1" font-size="4.6" text-anchor="end" font-family="Liberation Sans, sans-serif" stroke="#000" stroke-width="0.22">6</text>
<line x1="289.6" y1="526.2" x2="291.8" y2="526.2" stroke="#111" stroke-width="0.7"/>
<text x="288.8" y="527.8" font-size="4.6" text-anchor="end" font-family="Liberation Sans, sans-serif" stroke="#000" stroke-width="0.22">4</text>
<line x1="289.6" y1="545.8" x2="291.8" y2="545.8" stroke="#111" stroke-width="0.7"/>
<text x="288.8" y="547.4" font-size="4.6" text-anchor="end" font-family="Liberation Sans, sans-serif" stroke="#000" stroke-width="0.22">3</text>
<line x1="289.6" y1="565.3" x2="291.8" y2="565.3" stroke="#111" stroke-width="0.7"/>
<text x="288.8" y="566.9" font-size="4.6" text-anchor="end" font-family="Liberation Sans, sans-serif" stroke="#000" stroke-width="0.22">2</text>
<line x1="289.6" y1="584.9" x2="291.8" y2="584.9" stroke="#111" stroke-width="0.7"/>
<text x="288.8" y="586.5" font-size="4.6" text-anchor="end" font-family="Liberation Sans, sans-serif" stroke="#000" stroke-width="0.22">1</text>
<line x1="289.6" y1="604.4" x2="291.8" y2="604.4" stroke="#111" stroke-width="0.7"/>
<text x="288.8" y="606.0" font-size="4.6" text-anchor="end" font-family="Liberation Sans, sans-serif" stroke="#000" stroke-width="0.22">0</text>
<line x1="291.8" y1="521.5" x2="293.40000000000003" y2="521.5" stroke="#111" stroke-width="0.7"/>
<line x1="291.8" y1="526.2" x2="293.40000000000003" y2="526.2" stroke="#111" stroke-width="0.7"/>
<line x1="291.8" y1="604.4" x2="505" y2="604.4" stroke="#111" stroke-width="0.9"/>
<text x="0" y="0" font-size="5.4" text-anchor="middle" font-family="Liberation Sans, sans-serif" transform="translate(277.6 541) rotate(-90)" stroke="#000" stroke-width="0.22">Relative ERG mRNA expression</text>
<rect x="486" y="479.4" width="8" height="5" fill="#000" stroke="#222" stroke-width="0.6"/>
<rect x="486" y="487.2" width="8" height="5" fill="#fff" stroke="#222" stroke-width="0.7"/>
<text x="497.5" y="484.1" font-size="5.6" font-family="Liberation Sans, sans-serif" stroke="#000" stroke-width="0.22">DP</text>
<text x="497.5" y="491.6" font-size="5.6" font-family="Liberation Sans, sans-serif" stroke="#000" stroke-width="0.22">PP</text>
<line x1="295.6" y1="578.6" x2="295.6" y2="581.6" stroke="#111" stroke-width="0.7"/>
<line x1="294.3" y1="578.6" x2="296.9" y2="578.6" stroke="#111" stroke-width="0.7"/>
<rect x="293.0" y="581.6" width="5.2" height="22.8" fill="#fff" stroke="#111" stroke-width="0.75"/>
<rect x="293.0" y="597.7" width="5.2" height="6.7" fill="#000" stroke="#111" stroke-width="0.75"/>
<line x1="295.6" y1="604.4" x2="295.6" y2="606.0" stroke="#111" stroke-width="0.6"/>
<text x="295.6" y="611.2" font-size="4.5" text-anchor="middle" font-family="Liberation Sans, sans-serif" stroke="#000" stroke-width="0.22">1</text>
<line x1="302.9" y1="543.6" x2="302.9" y2="553.5" stroke="#111" stroke-width="0.7"/>
<line x1="301.6" y1="543.6" x2="304.2" y2="543.6" stroke="#111" stroke-width="0.7"/>
<rect x="300.3" y="553.5" width="5.2" height="50.9" fill="#fff" stroke="#111" stroke-width="0.75"/>
<rect x="300.3" y="578.1" width="5.2" height="26.3" fill="#000" stroke="#111" stroke-width="0.75"/>
<line x1="302.9" y1="604.4" x2="302.9" y2="606.0" stroke="#111" stroke-width="0.6"/>
<text x="302.9" y="611.2" font-size="4.5" text-anchor="middle" font-family="Liberation Sans, sans-serif" stroke="#000" stroke-width="0.22">2</text>
<line x1="310.3" y1="489.3" x2="310.3" y2="502.1" stroke="#111" stroke-width="0.7"/>
<line x1="309.0" y1="489.3" x2="311.6" y2="489.3" stroke="#111" stroke-width="0.7"/>
<rect x="307.7" y="502.1" width="5.2" height="102.3" fill="#fff" stroke="#111" stroke-width="0.75"/>
<rect x="307.7" y="549" width="5.2" height="55.4" fill="#000" stroke="#111" stroke-width="0.75"/>
<line x1="310.3" y1="604.4" x2="310.3" y2="606.0" stroke="#111" stroke-width="0.6"/>
<text x="310.3" y="611.2" font-size="4.5" text-anchor="middle" font-family="Liberation Sans, sans-serif" stroke="#000" stroke-width="0.22">3</text>
<line x1="317.6" y1="583" x2="317.6" y2="585.3" stroke="#111" stroke-width="0.7"/>
<line x1="316.3" y1="583" x2="318.9" y2="583" stroke="#111" stroke-width="0.7"/>
<rect x="315.0" y="585.3" width="5.2" height="19.1" fill="#fff" stroke="#111" stroke-width="0.75"/>
<rect x="315.0" y="594.2" width="5.2" height="10.2" fill="#000" stroke="#111" stroke-width="0.75"/>
<line x1="317.6" y1="604.4" x2="317.6" y2="606.0" stroke="#111" stroke-width="0.6"/>
<text x="317.6" y="611.2" font-size="4.5" text-anchor="middle" font-family="Liberation Sans, sans-serif" stroke="#000" stroke-width="0.22">4</text>
<line x1="332.3" y1="594.5" x2="332.3" y2="596.7" stroke="#111" stroke-width="0.7"/>
<line x1="331.0" y1="594.5" x2="333.6" y2="594.5" stroke="#111" stroke-width="0.7"/>
<rect x="329.7" y="596.7" width="5.2" height="7.7" fill="#fff" stroke="#111" stroke-width="0.75"/>
<line x1="332.3" y1="604.4" x2="332.3" y2="606.0" stroke="#111" stroke-width="0.6"/>
<text x="332.3" y="611.2" font-size="4.5" text-anchor="middle" font-family="Liberation Sans, sans-serif" stroke="#000" stroke-width="0.22">5</text>
<line x1="339.7" y1="594.7" x2="339.7" y2="598.4" stroke="#111" stroke-width="0.7"/>
<line x1="338.4" y1="594.7" x2="341.0" y2="594.7" stroke="#111" stroke-width="0.7"/>
<rect x="337.1" y="598.4" width="5.2" height="6.0" fill="#fff" stroke="#111" stroke-width="0.75"/>
<line x1="339.7" y1="604.4" x2="339.7" y2="606.0" stroke="#111" stroke-width="0.6"/>
<text x="339.7" y="611.2" font-size="4.5" text-anchor="middle" font-family="Liberation Sans, sans-serif" stroke="#000" stroke-width="0.22">6</text>
<line x1="347.0" y1="568.4" x2="347.0" y2="575.5" stroke="#111" stroke-width="0.7"/>
<line x1="345.7" y1="568.4" x2="348.3" y2="568.4" stroke="#111" stroke-width="0.7"/>
<rect x="344.4" y="575.5" width="5.2" height="28.9" fill="#fff" stroke="#111" stroke-width="0.75"/>
<rect x="344.4" y="603.3" width="5.2" height="1.1" fill="#000" stroke="#111" stroke-width="0.75"/>
<line x1="347.0" y1="604.4" x2="347.0" y2="606.0" stroke="#111" stroke-width="0.6"/>
<text x="347.0" y="611.2" font-size="4.5" text-anchor="middle" font-family="Liberation Sans, sans-serif" stroke="#000" stroke-width="0.22">7</text>
<line x1="354.4" y1="574.8" x2="354.4" y2="579.4" stroke="#111" stroke-width="0.7"/>
<line x1="353.1" y1="574.8" x2="355.7" y2="574.8" stroke="#111" stroke-width="0.7"/>
<rect x="351.8" y="579.4" width="5.2" height="25.0" fill="#fff" stroke="#111" stroke-width="0.75"/>
<rect x="351.8" y="600.8" width="5.2" height="3.6" fill="#000" stroke="#111" stroke-width="0.75"/>
<line x1="354.4" y1="604.4" x2="354.4" y2="606.0" stroke="#111" stroke-width="0.6"/>
<text x="354.4" y="611.2" font-size="4.5" text-anchor="middle" font-family="Liberation Sans, sans-serif" stroke="#000" stroke-width="0.22">8</text>
<line x1="361.7" y1="592.9" x2="361.7" y2="593.8" stroke="#111" stroke-width="0.7"/>
<line x1="360.4" y1="592.9" x2="363.0" y2="592.9" stroke="#111" stroke-width="0.7"/>
<rect x="359.1" y="593.8" width="5.2" height="10.6" fill="#fff" stroke="#111" stroke-width="0.75"/>
<line x1="361.7" y1="604.4" x2="361.7" y2="606.0" stroke="#111" stroke-width="0.6"/>
<text x="361.7" y="611.2" font-size="4.5" text-anchor="middle" font-family="Liberation Sans, sans-serif" stroke="#000" stroke-width="0.22">9</text>
<line x1="369.1" y1="583.3" x2="369.1" y2="586.5" stroke="#111" stroke-width="0.7"/>
<line x1="367.8" y1="583.3" x2="370.4" y2="583.3" stroke="#111" stroke-width="0.7"/>
<rect x="366.4" y="586.5" width="5.2" height="17.9" fill="#fff" stroke="#111" stroke-width="0.75"/>
<line x1="369.1" y1="604.4" x2="369.1" y2="606.0" stroke="#111" stroke-width="0.6"/>
<text x="369.1" y="611.2" font-size="4.5" text-anchor="middle" font-family="Liberation Sans, sans-serif" stroke="#000" stroke-width="0.22">10</text>
<line x1="376.4" y1="598.4" x2="376.4" y2="599.2" stroke="#111" stroke-width="0.7"/>
<line x1="375.1" y1="598.4" x2="377.7" y2="598.4" stroke="#111" stroke-width="0.7"/>
<rect x="373.8" y="599.2" width="5.2" height="5.2" fill="#fff" stroke="#111" stroke-width="0.75"/>
<rect x="373.8" y="601.9" width="5.2" height="2.5" fill="#000" stroke="#111" stroke-width="0.75"/>
<line x1="376.4" y1="604.4" x2="376.4" y2="606.0" stroke="#111" stroke-width="0.6"/>
<text x="376.4" y="611.2" font-size="4.5" text-anchor="middle" font-family="Liberation Sans, sans-serif" stroke="#000" stroke-width="0.22">11</text>
<line x1="391.1" y1="591.5" x2="391.1" y2="592.3" stroke="#111" stroke-width="0.7"/>
<line x1="389.8" y1="591.5" x2="392.4" y2="591.5" stroke="#111" stroke-width="0.7"/>
<rect x="388.5" y="592.3" width="5.2" height="12.1" fill="#fff" stroke="#111" stroke-width="0.75"/>
<line x1="391.1" y1="604.4" x2="391.1" y2="606.0" stroke="#111" stroke-width="0.6"/>
<text x="391.1" y="611.2" font-size="4.5" text-anchor="middle" font-family="Liberation Sans, sans-serif" stroke="#000" stroke-width="0.22">12</text>
<line x1="398.4" y1="595.8" x2="398.4" y2="600" stroke="#111" stroke-width="0.7"/>
<line x1="397.1" y1="595.8" x2="399.7" y2="595.8" stroke="#111" stroke-width="0.7"/>
<rect x="395.8" y="600" width="5.2" height="4.4" fill="#fff" stroke="#111" stroke-width="0.75"/>
<line x1="398.4" y1="604.4" x2="398.4" y2="606.0" stroke="#111" stroke-width="0.6"/>
<text x="398.4" y="611.2" font-size="4.5" text-anchor="middle" font-family="Liberation Sans, sans-serif" stroke="#000" stroke-width="0.22">13</text>
<line x1="405.8" y1="571.3" x2="405.8" y2="573.7" stroke="#111" stroke-width="0.7"/>
<line x1="404.5" y1="571.3" x2="407.1" y2="571.3" stroke="#111" stroke-width="0.7"/>
<rect x="403.2" y="573.7" width="5.2" height="30.7" fill="#fff" stroke="#111" stroke-width="0.75"/>
<rect x="403.2" y="602.5" width="5.2" height="1.9" fill="#000" stroke="#111" stroke-width="0.75"/>
<line x1="405.8" y1="604.4" x2="405.8" y2="606.0" stroke="#111" stroke-width="0.6"/>
<text x="405.8" y="611.2" font-size="4.5" text-anchor="middle" font-family="Liberation Sans, sans-serif" stroke="#000" stroke-width="0.22">14</text>
<line x1="413.1" y1="601" x2="413.1" y2="601.5" stroke="#111" stroke-width="0.7"/>
<line x1="411.8" y1="601" x2="414.4" y2="601" stroke="#111" stroke-width="0.7"/>
<rect x="410.5" y="601.5" width="5.2" height="2.9" fill="#fff" stroke="#111" stroke-width="0.75"/>
<line x1="413.1" y1="604.4" x2="413.1" y2="606.0" stroke="#111" stroke-width="0.6"/>
<text x="413.1" y="611.2" font-size="4.5" text-anchor="middle" font-family="Liberation Sans, sans-serif" stroke="#000" stroke-width="0.22">15</text>
<line x1="420.5" y1="594.8" x2="420.5" y2="595.8" stroke="#111" stroke-width="0.7"/>
<line x1="419.2" y1="594.8" x2="421.8" y2="594.8" stroke="#111" stroke-width="0.7"/>
<rect x="417.9" y="595.8" width="5.2" height="8.6" fill="#fff" stroke="#111" stroke-width="0.75"/>
<line x1="420.5" y1="604.4" x2="420.5" y2="606.0" stroke="#111" stroke-width="0.6"/>
<text x="420.5" y="611.2" font-size="4.5" text-anchor="middle" font-family="Liberation Sans, sans-serif" stroke="#000" stroke-width="0.22">16</text>
<line x1="427.8" y1="602.6" x2="427.8" y2="603" stroke="#111" stroke-width="0.7"/>
<line x1="426.5" y1="602.6" x2="429.1" y2="602.6" stroke="#111" stroke-width="0.7"/>
<rect x="425.2" y="603" width="5.2" height="1.4" fill="#fff" stroke="#111" stroke-width="0.75"/>
<line x1="427.8" y1="604.4" x2="427.8" y2="606.0" stroke="#111" stroke-width="0.6"/>
<text x="427.8" y="611.2" font-size="4.5" text-anchor="middle" font-family="Liberation Sans, sans-serif" stroke="#000" stroke-width="0.22">17</text>
<rect x="439.9" y="603.6" width="5.2" height="0.8" fill="#fff" stroke="#111" stroke-width="0.75"/>
<line x1="442.5" y1="604.4" x2="442.5" y2="606.0" stroke="#111" stroke-width="0.6"/>
<text x="442.5" y="611.2" font-size="4.5" text-anchor="middle" font-family="Liberation Sans, sans-serif" stroke="#000" stroke-width="0.22">18</text>
<line x1="449.8" y1="591.5" x2="449.8" y2="592.9" stroke="#111" stroke-width="0.7"/>
<line x1="448.5" y1="591.5" x2="451.1" y2="591.5" stroke="#111" stroke-width="0.7"/>
<rect x="447.2" y="592.9" width="5.2" height="11.5" fill="#fff" stroke="#111" stroke-width="0.75"/>
<line x1="449.8" y1="604.4" x2="449.8" y2="606.0" stroke="#111" stroke-width="0.6"/>
<text x="449.8" y="611.2" font-size="4.5" text-anchor="middle" font-family="Liberation Sans, sans-serif" stroke="#000" stroke-width="0.22">19</text>
<rect x="454.6" y="603.9" width="5.2" height="0.5" fill="#fff" stroke="#111" stroke-width="0.75"/>
<line x1="457.2" y1="604.4" x2="457.2" y2="606.0" stroke="#111" stroke-width="0.6"/>
<text x="457.2" y="611.2" font-size="4.5" text-anchor="middle" font-family="Liberation Sans, sans-serif" stroke="#000" stroke-width="0.22">20</text>
<line x1="464.5" y1="596" x2="464.5" y2="597.1" stroke="#111" stroke-width="0.7"/>
<line x1="463.2" y1="596" x2="465.8" y2="596" stroke="#111" stroke-width="0.7"/>
<rect x="461.9" y="597.1" width="5.2" height="7.3" fill="#fff" stroke="#111" stroke-width="0.75"/>
<line x1="464.5" y1="604.4" x2="464.5" y2="606.0" stroke="#111" stroke-width="0.6"/>
<text x="464.5" y="611.2" font-size="4.5" text-anchor="middle" font-family="Liberation Sans, sans-serif" stroke="#000" stroke-width="0.22">21</text>
<line x1="471.9" y1="591.5" x2="471.9" y2="595.2" stroke="#111" stroke-width="0.7"/>
<line x1="470.6" y1="591.5" x2="473.2" y2="591.5" stroke="#111" stroke-width="0.7"/>
<rect x="469.3" y="595.2" width="5.2" height="9.2" fill="#fff" stroke="#111" stroke-width="0.75"/>
<line x1="471.9" y1="604.4" x2="471.9" y2="606.0" stroke="#111" stroke-width="0.6"/>
<text x="471.9" y="611.2" font-size="4.5" text-anchor="middle" font-family="Liberation Sans, sans-serif" stroke="#000" stroke-width="0.22">22</text>
<line x1="479.2" y1="585.8" x2="479.2" y2="590.4" stroke="#111" stroke-width="0.7"/>
<line x1="477.9" y1="585.8" x2="480.5" y2="585.8" stroke="#111" stroke-width="0.7"/>
<rect x="476.6" y="590.4" width="5.2" height="14.0" fill="#fff" stroke="#111" stroke-width="0.75"/>
<line x1="479.2" y1="604.4" x2="479.2" y2="606.0" stroke="#111" stroke-width="0.6"/>
<text x="479.2" y="611.2" font-size="4.5" text-anchor="middle" font-family="Liberation Sans, sans-serif" stroke="#000" stroke-width="0.22">23</text>
<line x1="486.6" y1="591" x2="486.6" y2="592" stroke="#111" stroke-width="0.7"/>
<line x1="485.3" y1="591" x2="487.9" y2="591" stroke="#111" stroke-width="0.7"/>
<rect x="484.0" y="592" width="5.2" height="12.4" fill="#fff" stroke="#111" stroke-width="0.75"/>
<line x1="486.6" y1="604.4" x2="486.6" y2="606.0" stroke="#111" stroke-width="0.6"/>
<text x="486.6" y="611.2" font-size="4.5" text-anchor="middle" font-family="Liberation Sans, sans-serif" stroke="#000" stroke-width="0.22">24</text>
<rect x="491.3" y="604" width="5.2" height="0.4" fill="#fff" stroke="#111" stroke-width="0.75"/>
<line x1="493.9" y1="604.4" x2="493.9" y2="606.0" stroke="#111" stroke-width="0.6"/>
<text x="493.9" y="611.2" font-size="4.5" text-anchor="middle" font-family="Liberation Sans, sans-serif" stroke="#000" stroke-width="0.22">25</text>
<rect x="498.7" y="601.5" width="5.2" height="2.9" fill="#fff" stroke="#111" stroke-width="0.75"/>
<line x1="501.3" y1="604.4" x2="501.3" y2="606.0" stroke="#111" stroke-width="0.6"/>
<text x="501.3" y="611.2" font-size="4.5" text-anchor="middle" font-family="Liberation Sans, sans-serif" stroke="#000" stroke-width="0.22">26</text>
<rect x="307.0" y="521.8" width="6.6" height="4.1" fill="#fff"/>
<line x1="307.7" y1="521.5" x2="312.9" y2="521.5" stroke="#111" stroke-width="0.7"/>
<line x1="307.7" y1="526.2" x2="312.9" y2="526.2" stroke="#111" stroke-width="0.7"/>
<text x="287.2" y="606" font-size="4.6" text-anchor="end" font-family="Liberation Sans, sans-serif" stroke="#000" stroke-width="0.22"></text>
<line x1="292.5" y1="614.6" x2="322.5" y2="614.6" stroke="#111" stroke-width="0.9"/>
<text x="306.5" y="622.7" font-size="5.7" text-anchor="middle" font-family="Liberation Sans, sans-serif" stroke="#000" stroke-width="0.22">Red</text>
<line x1="327.3" y1="614.6" x2="381.3" y2="614.6" stroke="#111" stroke-width="0.9"/>
<text x="354.2" y="622.7" font-size="5.7" text-anchor="middle" font-family="Liberation Sans, sans-serif" stroke="#000" stroke-width="0.22">Yellow</text>
<line x1="386.2" y1="614.6" x2="433.3" y2="614.6" stroke="#111" stroke-width="0.9"/>
<text x="409.3" y="622.7" font-size="5.7" text-anchor="middle" font-family="Liberation Sans, sans-serif" stroke="#000" stroke-width="0.22">Blue</text>
<line x1="438.3" y1="614.6" x2="504.6" y2="614.6" stroke="#111" stroke-width="0.9"/>
<text x="471.5" y="622.7" font-size="5.7" text-anchor="middle" font-family="Liberation Sans, sans-serif" stroke="#000" stroke-width="0.22">Green</text>
</svg></body></html>
